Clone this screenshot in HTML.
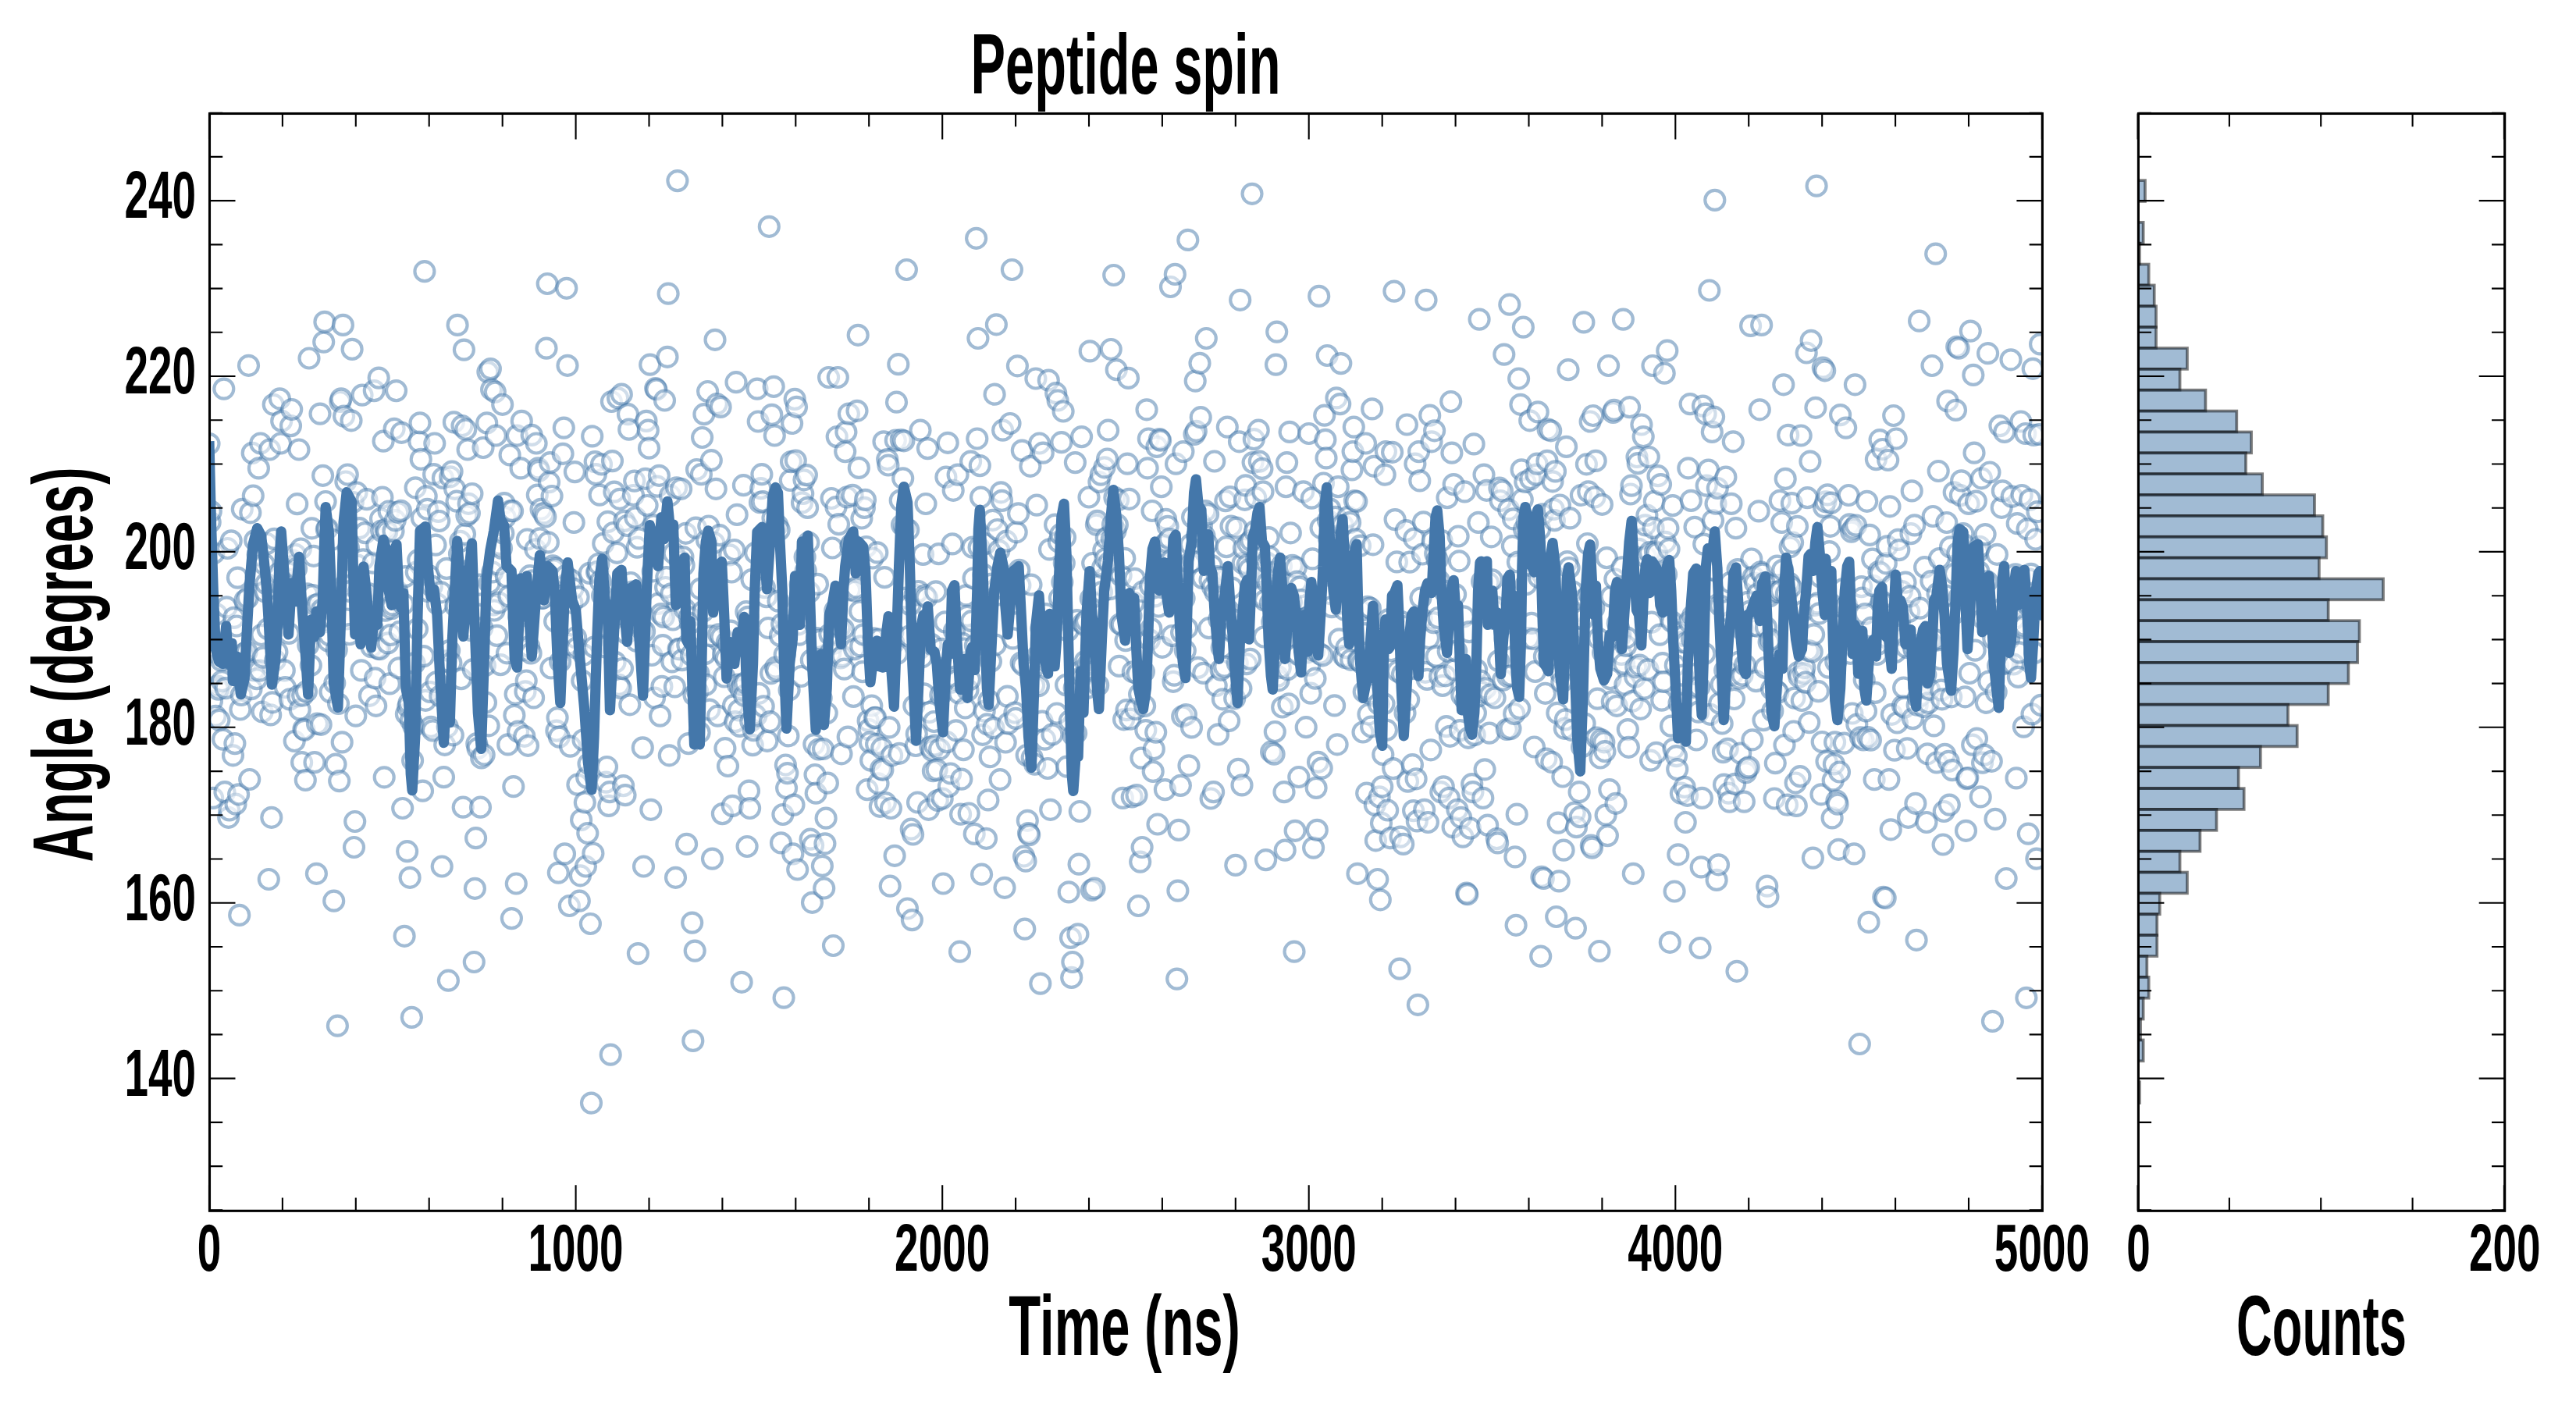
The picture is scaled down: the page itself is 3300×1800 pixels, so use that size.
<!DOCTYPE html>
<html><head><meta charset="utf-8"><title>Peptide spin</title>
<style>html,body{margin:0;padding:0;background:#fff}svg{display:block}text{font-family:"Liberation Sans",sans-serif;font-weight:bold;fill:#000}</style></head><body>
<svg width="3300" height="1800" viewBox="0 0 3300 1800">
<rect width="3300" height="1800" fill="#fff"/>
<defs><clipPath id="c1"><rect x="268.5" y="145.5" width="2347.9" height="1405.8"/></clipPath><clipPath id="c2"><rect x="2739.4" y="145.5" width="469.3" height="1405.8"/></clipPath></defs>
<g clip-path="url(#c1)"><g fill="#fff" fill-opacity="0.5" stroke="#4477aa" stroke-opacity="0.5" stroke-width="4.17">
<circle cx="268.0" cy="568.6" r="12.5"/>
<circle cx="269.2" cy="669.0" r="12.5"/>
<circle cx="270.3" cy="655.0" r="12.5"/>
<circle cx="271.5" cy="898.0" r="12.5"/>
<circle cx="272.7" cy="1022.4" r="12.5"/>
<circle cx="273.9" cy="708.7" r="12.5"/>
<circle cx="275.0" cy="835.9" r="12.5"/>
<circle cx="276.2" cy="917.3" r="12.5"/>
<circle cx="277.4" cy="786.8" r="12.5"/>
<circle cx="278.6" cy="878.8" r="12.5"/>
<circle cx="279.7" cy="883.1" r="12.5"/>
<circle cx="280.9" cy="922.5" r="12.5"/>
<circle cx="282.1" cy="823.8" r="12.5"/>
<circle cx="283.3" cy="846.1" r="12.5"/>
<circle cx="284.4" cy="872.6" r="12.5"/>
<circle cx="285.6" cy="947.1" r="12.5"/>
<circle cx="286.8" cy="498.1" r="12.5"/>
<circle cx="288.0" cy="1014.7" r="12.5"/>
<circle cx="289.1" cy="881.7" r="12.5"/>
<circle cx="290.3" cy="777.8" r="12.5"/>
<circle cx="291.5" cy="702.5" r="12.5"/>
<circle cx="292.7" cy="1047.3" r="12.5"/>
<circle cx="293.8" cy="1038.0" r="12.5"/>
<circle cx="295.0" cy="844.1" r="12.5"/>
<circle cx="296.2" cy="692.9" r="12.5"/>
<circle cx="297.3" cy="844.3" r="12.5"/>
<circle cx="298.5" cy="967.8" r="12.5"/>
<circle cx="299.7" cy="791.4" r="12.5"/>
<circle cx="300.9" cy="952.6" r="12.5"/>
<circle cx="302.0" cy="1030.2" r="12.5"/>
<circle cx="303.2" cy="802.0" r="12.5"/>
<circle cx="304.4" cy="740.1" r="12.5"/>
<circle cx="305.6" cy="1017.8" r="12.5"/>
<circle cx="306.7" cy="1172.4" r="12.5"/>
<circle cx="307.9" cy="909.0" r="12.5"/>
<circle cx="309.1" cy="890.5" r="12.5"/>
<circle cx="310.3" cy="652.3" r="12.5"/>
<circle cx="311.4" cy="842.0" r="12.5"/>
<circle cx="312.6" cy="837.3" r="12.5"/>
<circle cx="313.8" cy="769.1" r="12.5"/>
<circle cx="315.0" cy="852.0" r="12.5"/>
<circle cx="316.1" cy="835.0" r="12.5"/>
<circle cx="317.3" cy="766.2" r="12.5"/>
<circle cx="318.5" cy="468.3" r="12.5"/>
<circle cx="319.7" cy="998.5" r="12.5"/>
<circle cx="320.8" cy="656.8" r="12.5"/>
<circle cx="322.0" cy="882.7" r="12.5"/>
<circle cx="323.2" cy="580.4" r="12.5"/>
<circle cx="324.3" cy="635.0" r="12.5"/>
<circle cx="325.5" cy="859.0" r="12.5"/>
<circle cx="326.7" cy="692.3" r="12.5"/>
<circle cx="327.9" cy="736.8" r="12.5"/>
<circle cx="329.0" cy="869.6" r="12.5"/>
<circle cx="330.2" cy="710.4" r="12.5"/>
<circle cx="331.4" cy="599.9" r="12.5"/>
<circle cx="332.6" cy="859.2" r="12.5"/>
<circle cx="333.7" cy="568.0" r="12.5"/>
<circle cx="334.9" cy="813.5" r="12.5"/>
<circle cx="336.1" cy="912.0" r="12.5"/>
<circle cx="337.3" cy="842.2" r="12.5"/>
<circle cx="338.4" cy="722.6" r="12.5"/>
<circle cx="339.6" cy="757.9" r="12.5"/>
<circle cx="340.8" cy="747.6" r="12.5"/>
<circle cx="342.0" cy="696.5" r="12.5"/>
<circle cx="343.1" cy="805.6" r="12.5"/>
<circle cx="344.3" cy="1126.5" r="12.5"/>
<circle cx="345.5" cy="576.0" r="12.5"/>
<circle cx="346.7" cy="915.9" r="12.5"/>
<circle cx="347.8" cy="1047.3" r="12.5"/>
<circle cx="349.0" cy="899.8" r="12.5"/>
<circle cx="350.2" cy="518.3" r="12.5"/>
<circle cx="351.4" cy="690.4" r="12.5"/>
<circle cx="352.5" cy="846.0" r="12.5"/>
<circle cx="353.7" cy="803.6" r="12.5"/>
<circle cx="354.9" cy="835.2" r="12.5"/>
<circle cx="356.0" cy="775.9" r="12.5"/>
<circle cx="357.2" cy="734.4" r="12.5"/>
<circle cx="358.4" cy="510.8" r="12.5"/>
<circle cx="359.6" cy="568.0" r="12.5"/>
<circle cx="360.7" cy="539.4" r="12.5"/>
<circle cx="361.9" cy="752.6" r="12.5"/>
<circle cx="363.1" cy="777.6" r="12.5"/>
<circle cx="364.3" cy="858.9" r="12.5"/>
<circle cx="365.4" cy="880.5" r="12.5"/>
<circle cx="366.6" cy="753.9" r="12.5"/>
<circle cx="367.8" cy="731.1" r="12.5"/>
<circle cx="369.0" cy="723.2" r="12.5"/>
<circle cx="370.1" cy="811.4" r="12.5"/>
<circle cx="371.3" cy="895.9" r="12.5"/>
<circle cx="372.5" cy="545.6" r="12.5"/>
<circle cx="373.7" cy="524.5" r="12.5"/>
<circle cx="374.8" cy="717.9" r="12.5"/>
<circle cx="376.0" cy="725.3" r="12.5"/>
<circle cx="377.2" cy="949.5" r="12.5"/>
<circle cx="378.4" cy="710.4" r="12.5"/>
<circle cx="379.5" cy="728.7" r="12.5"/>
<circle cx="380.7" cy="645.7" r="12.5"/>
<circle cx="381.9" cy="891.9" r="12.5"/>
<circle cx="383.0" cy="576.0" r="12.5"/>
<circle cx="384.2" cy="909.2" r="12.5"/>
<circle cx="385.4" cy="703.0" r="12.5"/>
<circle cx="386.6" cy="976.7" r="12.5"/>
<circle cx="387.7" cy="891.0" r="12.5"/>
<circle cx="388.9" cy="934.0" r="12.5"/>
<circle cx="390.1" cy="935.3" r="12.5"/>
<circle cx="391.3" cy="999.5" r="12.5"/>
<circle cx="392.4" cy="885.9" r="12.5"/>
<circle cx="393.6" cy="760.8" r="12.5"/>
<circle cx="394.8" cy="826.4" r="12.5"/>
<circle cx="396.0" cy="459.0" r="12.5"/>
<circle cx="397.1" cy="782.4" r="12.5"/>
<circle cx="398.3" cy="852.5" r="12.5"/>
<circle cx="399.5" cy="676.8" r="12.5"/>
<circle cx="400.7" cy="762.6" r="12.5"/>
<circle cx="401.8" cy="712.3" r="12.5"/>
<circle cx="403.0" cy="976.7" r="12.5"/>
<circle cx="404.2" cy="775.3" r="12.5"/>
<circle cx="405.4" cy="1119.3" r="12.5"/>
<circle cx="406.5" cy="927.2" r="12.5"/>
<circle cx="407.7" cy="773.8" r="12.5"/>
<circle cx="408.9" cy="796.6" r="12.5"/>
<circle cx="410.0" cy="530.1" r="12.5"/>
<circle cx="411.2" cy="928.3" r="12.5"/>
<circle cx="412.4" cy="781.0" r="12.5"/>
<circle cx="413.6" cy="609.3" r="12.5"/>
<circle cx="414.7" cy="438.1" r="12.5"/>
<circle cx="415.9" cy="412.4" r="12.5"/>
<circle cx="417.1" cy="642.5" r="12.5"/>
<circle cx="418.3" cy="678.1" r="12.5"/>
<circle cx="419.4" cy="677.0" r="12.5"/>
<circle cx="420.6" cy="821.1" r="12.5"/>
<circle cx="421.8" cy="813.4" r="12.5"/>
<circle cx="423.0" cy="886.6" r="12.5"/>
<circle cx="424.1" cy="764.6" r="12.5"/>
<circle cx="425.3" cy="691.3" r="12.5"/>
<circle cx="426.5" cy="791.5" r="12.5"/>
<circle cx="427.7" cy="1154.2" r="12.5"/>
<circle cx="428.8" cy="875.0" r="12.5"/>
<circle cx="430.0" cy="979.1" r="12.5"/>
<circle cx="431.2" cy="832.5" r="12.5"/>
<circle cx="432.4" cy="1314.2" r="12.5"/>
<circle cx="433.5" cy="901.5" r="12.5"/>
<circle cx="434.7" cy="1000.6" r="12.5"/>
<circle cx="435.9" cy="514.5" r="12.5"/>
<circle cx="437.0" cy="510.8" r="12.5"/>
<circle cx="438.2" cy="950.9" r="12.5"/>
<circle cx="439.4" cy="416.4" r="12.5"/>
<circle cx="440.6" cy="533.2" r="12.5"/>
<circle cx="441.7" cy="750.1" r="12.5"/>
<circle cx="442.9" cy="617.0" r="12.5"/>
<circle cx="444.1" cy="793.0" r="12.5"/>
<circle cx="445.3" cy="608.0" r="12.5"/>
<circle cx="446.4" cy="701.7" r="12.5"/>
<circle cx="447.6" cy="812.7" r="12.5"/>
<circle cx="448.8" cy="757.6" r="12.5"/>
<circle cx="450.0" cy="538.8" r="12.5"/>
<circle cx="451.1" cy="447.4" r="12.5"/>
<circle cx="452.3" cy="643.5" r="12.5"/>
<circle cx="453.5" cy="1085.5" r="12.5"/>
<circle cx="454.7" cy="1052.5" r="12.5"/>
<circle cx="455.8" cy="917.1" r="12.5"/>
<circle cx="457.0" cy="631.0" r="12.5"/>
<circle cx="458.2" cy="724.2" r="12.5"/>
<circle cx="459.4" cy="758.0" r="12.5"/>
<circle cx="460.5" cy="676.7" r="12.5"/>
<circle cx="461.7" cy="766.7" r="12.5"/>
<circle cx="462.9" cy="858.9" r="12.5"/>
<circle cx="464.0" cy="506.1" r="12.5"/>
<circle cx="465.2" cy="716.9" r="12.5"/>
<circle cx="466.4" cy="759.8" r="12.5"/>
<circle cx="467.6" cy="682.6" r="12.5"/>
<circle cx="468.7" cy="785.9" r="12.5"/>
<circle cx="469.9" cy="639.7" r="12.5"/>
<circle cx="471.1" cy="808.2" r="12.5"/>
<circle cx="472.3" cy="760.7" r="12.5"/>
<circle cx="473.4" cy="891.3" r="12.5"/>
<circle cx="474.6" cy="811.8" r="12.5"/>
<circle cx="475.8" cy="828.6" r="12.5"/>
<circle cx="477.0" cy="804.5" r="12.5"/>
<circle cx="478.1" cy="721.2" r="12.5"/>
<circle cx="479.3" cy="500.6" r="12.5"/>
<circle cx="480.5" cy="868.8" r="12.5"/>
<circle cx="481.7" cy="904.3" r="12.5"/>
<circle cx="482.8" cy="698.7" r="12.5"/>
<circle cx="484.0" cy="830.7" r="12.5"/>
<circle cx="485.2" cy="484.1" r="12.5"/>
<circle cx="486.4" cy="831.6" r="12.5"/>
<circle cx="487.5" cy="664.7" r="12.5"/>
<circle cx="488.7" cy="680.1" r="12.5"/>
<circle cx="489.9" cy="637.2" r="12.5"/>
<circle cx="491.1" cy="565.2" r="12.5"/>
<circle cx="492.2" cy="995.8" r="12.5"/>
<circle cx="493.4" cy="782.1" r="12.5"/>
<circle cx="494.6" cy="678.0" r="12.5"/>
<circle cx="495.7" cy="681.6" r="12.5"/>
<circle cx="496.9" cy="823.9" r="12.5"/>
<circle cx="498.1" cy="655.0" r="12.5"/>
<circle cx="499.3" cy="875.9" r="12.5"/>
<circle cx="500.4" cy="813.5" r="12.5"/>
<circle cx="501.6" cy="779.7" r="12.5"/>
<circle cx="502.8" cy="774.9" r="12.5"/>
<circle cx="504.0" cy="680.4" r="12.5"/>
<circle cx="505.1" cy="549.3" r="12.5"/>
<circle cx="506.3" cy="666.6" r="12.5"/>
<circle cx="507.5" cy="500.6" r="12.5"/>
<circle cx="508.7" cy="757.3" r="12.5"/>
<circle cx="509.8" cy="656.3" r="12.5"/>
<circle cx="511.0" cy="855.9" r="12.5"/>
<circle cx="512.2" cy="809.3" r="12.5"/>
<circle cx="513.4" cy="654.4" r="12.5"/>
<circle cx="514.5" cy="554.3" r="12.5"/>
<circle cx="515.7" cy="1035.5" r="12.5"/>
<circle cx="516.9" cy="773.9" r="12.5"/>
<circle cx="518.1" cy="1199.3" r="12.5"/>
<circle cx="519.2" cy="738.6" r="12.5"/>
<circle cx="520.4" cy="914.8" r="12.5"/>
<circle cx="521.6" cy="1090.7" r="12.5"/>
<circle cx="522.7" cy="905.8" r="12.5"/>
<circle cx="523.9" cy="900.9" r="12.5"/>
<circle cx="525.1" cy="1124.3" r="12.5"/>
<circle cx="526.3" cy="922.8" r="12.5"/>
<circle cx="527.4" cy="1303.4" r="12.5"/>
<circle cx="528.6" cy="974.3" r="12.5"/>
<circle cx="529.8" cy="930.5" r="12.5"/>
<circle cx="531.0" cy="849.6" r="12.5"/>
<circle cx="532.1" cy="624.8" r="12.5"/>
<circle cx="533.3" cy="733.1" r="12.5"/>
<circle cx="534.5" cy="805.8" r="12.5"/>
<circle cx="535.7" cy="717.6" r="12.5"/>
<circle cx="536.8" cy="565.8" r="12.5"/>
<circle cx="538.0" cy="541.9" r="12.5"/>
<circle cx="539.2" cy="588.4" r="12.5"/>
<circle cx="540.4" cy="663.7" r="12.5"/>
<circle cx="541.5" cy="1013.1" r="12.5"/>
<circle cx="542.7" cy="840.6" r="12.5"/>
<circle cx="543.9" cy="347.7" r="12.5"/>
<circle cx="545.1" cy="897.3" r="12.5"/>
<circle cx="546.2" cy="635.8" r="12.5"/>
<circle cx="547.4" cy="652.3" r="12.5"/>
<circle cx="548.6" cy="757.7" r="12.5"/>
<circle cx="549.7" cy="737.6" r="12.5"/>
<circle cx="550.9" cy="886.5" r="12.5"/>
<circle cx="552.1" cy="931.4" r="12.5"/>
<circle cx="553.3" cy="751.1" r="12.5"/>
<circle cx="554.4" cy="935.9" r="12.5"/>
<circle cx="555.6" cy="607.7" r="12.5"/>
<circle cx="556.8" cy="568.0" r="12.5"/>
<circle cx="558.0" cy="698.1" r="12.5"/>
<circle cx="559.1" cy="873.8" r="12.5"/>
<circle cx="560.3" cy="773.8" r="12.5"/>
<circle cx="561.5" cy="655.4" r="12.5"/>
<circle cx="562.7" cy="667.5" r="12.5"/>
<circle cx="563.8" cy="891.8" r="12.5"/>
<circle cx="565.0" cy="758.8" r="12.5"/>
<circle cx="566.2" cy="1110.0" r="12.5"/>
<circle cx="567.4" cy="612.4" r="12.5"/>
<circle cx="568.5" cy="995.7" r="12.5"/>
<circle cx="569.7" cy="954.3" r="12.5"/>
<circle cx="570.9" cy="846.9" r="12.5"/>
<circle cx="572.1" cy="728.4" r="12.5"/>
<circle cx="573.2" cy="931.1" r="12.5"/>
<circle cx="574.4" cy="1256.2" r="12.5"/>
<circle cx="575.6" cy="833.6" r="12.5"/>
<circle cx="576.7" cy="610.8" r="12.5"/>
<circle cx="577.9" cy="849.4" r="12.5"/>
<circle cx="579.1" cy="604.0" r="12.5"/>
<circle cx="580.3" cy="941.8" r="12.5"/>
<circle cx="581.4" cy="540.9" r="12.5"/>
<circle cx="582.6" cy="626.3" r="12.5"/>
<circle cx="583.8" cy="776.5" r="12.5"/>
<circle cx="585.0" cy="642.2" r="12.5"/>
<circle cx="586.1" cy="416.4" r="12.5"/>
<circle cx="587.3" cy="761.1" r="12.5"/>
<circle cx="588.5" cy="709.5" r="12.5"/>
<circle cx="589.7" cy="693.4" r="12.5"/>
<circle cx="590.8" cy="869.6" r="12.5"/>
<circle cx="592.0" cy="545.6" r="12.5"/>
<circle cx="593.2" cy="1034.2" r="12.5"/>
<circle cx="594.4" cy="448.1" r="12.5"/>
<circle cx="595.5" cy="684.3" r="12.5"/>
<circle cx="596.7" cy="550.2" r="12.5"/>
<circle cx="597.9" cy="660.6" r="12.5"/>
<circle cx="599.1" cy="576.0" r="12.5"/>
<circle cx="600.2" cy="645.3" r="12.5"/>
<circle cx="601.4" cy="657.5" r="12.5"/>
<circle cx="602.6" cy="803.5" r="12.5"/>
<circle cx="603.7" cy="807.7" r="12.5"/>
<circle cx="604.9" cy="632.5" r="12.5"/>
<circle cx="606.1" cy="857.6" r="12.5"/>
<circle cx="607.3" cy="1232.5" r="12.5"/>
<circle cx="608.4" cy="1138.3" r="12.5"/>
<circle cx="609.6" cy="1073.7" r="12.5"/>
<circle cx="610.8" cy="952.7" r="12.5"/>
<circle cx="612.0" cy="958.7" r="12.5"/>
<circle cx="613.1" cy="787.1" r="12.5"/>
<circle cx="614.3" cy="749.1" r="12.5"/>
<circle cx="615.5" cy="1034.2" r="12.5"/>
<circle cx="616.7" cy="970.9" r="12.5"/>
<circle cx="617.8" cy="804.5" r="12.5"/>
<circle cx="619.0" cy="573.5" r="12.5"/>
<circle cx="620.2" cy="967.0" r="12.5"/>
<circle cx="621.4" cy="852.6" r="12.5"/>
<circle cx="622.5" cy="900.0" r="12.5"/>
<circle cx="623.7" cy="541.9" r="12.5"/>
<circle cx="624.9" cy="476.6" r="12.5"/>
<circle cx="626.1" cy="929.8" r="12.5"/>
<circle cx="627.2" cy="746.9" r="12.5"/>
<circle cx="628.4" cy="472.6" r="12.5"/>
<circle cx="629.6" cy="499.0" r="12.5"/>
<circle cx="630.8" cy="732.9" r="12.5"/>
<circle cx="631.9" cy="774.9" r="12.5"/>
<circle cx="633.1" cy="782.0" r="12.5"/>
<circle cx="634.3" cy="502.1" r="12.5"/>
<circle cx="635.4" cy="558.0" r="12.5"/>
<circle cx="636.6" cy="814.4" r="12.5"/>
<circle cx="637.8" cy="722.9" r="12.5"/>
<circle cx="639.0" cy="772.1" r="12.5"/>
<circle cx="640.1" cy="697.4" r="12.5"/>
<circle cx="641.3" cy="851.6" r="12.5"/>
<circle cx="642.5" cy="702.4" r="12.5"/>
<circle cx="643.7" cy="518.3" r="12.5"/>
<circle cx="644.8" cy="683.2" r="12.5"/>
<circle cx="646.0" cy="644.6" r="12.5"/>
<circle cx="647.2" cy="662.7" r="12.5"/>
<circle cx="648.4" cy="738.9" r="12.5"/>
<circle cx="649.5" cy="836.8" r="12.5"/>
<circle cx="650.7" cy="953.9" r="12.5"/>
<circle cx="651.9" cy="763.9" r="12.5"/>
<circle cx="653.1" cy="582.9" r="12.5"/>
<circle cx="654.2" cy="654.7" r="12.5"/>
<circle cx="655.4" cy="1176.6" r="12.5"/>
<circle cx="656.6" cy="654.7" r="12.5"/>
<circle cx="657.8" cy="1007.7" r="12.5"/>
<circle cx="658.9" cy="916.4" r="12.5"/>
<circle cx="660.1" cy="889.3" r="12.5"/>
<circle cx="661.3" cy="1132.0" r="12.5"/>
<circle cx="662.4" cy="558.0" r="12.5"/>
<circle cx="663.6" cy="937.2" r="12.5"/>
<circle cx="664.8" cy="790.4" r="12.5"/>
<circle cx="666.0" cy="783.7" r="12.5"/>
<circle cx="667.1" cy="599.9" r="12.5"/>
<circle cx="668.3" cy="539.4" r="12.5"/>
<circle cx="669.5" cy="833.0" r="12.5"/>
<circle cx="670.7" cy="781.5" r="12.5"/>
<circle cx="671.8" cy="943.3" r="12.5"/>
<circle cx="673.0" cy="885.9" r="12.5"/>
<circle cx="674.2" cy="872.0" r="12.5"/>
<circle cx="675.4" cy="691.0" r="12.5"/>
<circle cx="676.5" cy="955.3" r="12.5"/>
<circle cx="677.7" cy="828.3" r="12.5"/>
<circle cx="678.9" cy="737.7" r="12.5"/>
<circle cx="680.1" cy="836.9" r="12.5"/>
<circle cx="681.2" cy="557.4" r="12.5"/>
<circle cx="682.4" cy="743.9" r="12.5"/>
<circle cx="683.6" cy="893.9" r="12.5"/>
<circle cx="684.8" cy="760.5" r="12.5"/>
<circle cx="685.9" cy="703.8" r="12.5"/>
<circle cx="687.1" cy="568.0" r="12.5"/>
<circle cx="688.3" cy="634.1" r="12.5"/>
<circle cx="689.4" cy="599.9" r="12.5"/>
<circle cx="690.6" cy="603.3" r="12.5"/>
<circle cx="691.8" cy="689.9" r="12.5"/>
<circle cx="693.0" cy="652.3" r="12.5"/>
<circle cx="694.1" cy="766.5" r="12.5"/>
<circle cx="695.3" cy="766.3" r="12.5"/>
<circle cx="696.5" cy="657.8" r="12.5"/>
<circle cx="697.7" cy="729.0" r="12.5"/>
<circle cx="698.8" cy="662.0" r="12.5"/>
<circle cx="700.0" cy="446.2" r="12.5"/>
<circle cx="701.2" cy="363.5" r="12.5"/>
<circle cx="702.4" cy="694.9" r="12.5"/>
<circle cx="703.5" cy="617.7" r="12.5"/>
<circle cx="704.7" cy="592.7" r="12.5"/>
<circle cx="705.9" cy="856.0" r="12.5"/>
<circle cx="707.1" cy="635.5" r="12.5"/>
<circle cx="708.2" cy="724.9" r="12.5"/>
<circle cx="709.4" cy="729.8" r="12.5"/>
<circle cx="710.6" cy="796.0" r="12.5"/>
<circle cx="711.8" cy="727.8" r="12.5"/>
<circle cx="712.9" cy="936.2" r="12.5"/>
<circle cx="714.1" cy="919.6" r="12.5"/>
<circle cx="715.3" cy="1118.1" r="12.5"/>
<circle cx="716.4" cy="944.1" r="12.5"/>
<circle cx="717.6" cy="847.8" r="12.5"/>
<circle cx="718.8" cy="763.5" r="12.5"/>
<circle cx="720.0" cy="763.0" r="12.5"/>
<circle cx="721.1" cy="581.3" r="12.5"/>
<circle cx="722.3" cy="548.1" r="12.5"/>
<circle cx="723.5" cy="1093.9" r="12.5"/>
<circle cx="724.7" cy="737.7" r="12.5"/>
<circle cx="725.8" cy="369.3" r="12.5"/>
<circle cx="727.0" cy="468.3" r="12.5"/>
<circle cx="728.2" cy="825.4" r="12.5"/>
<circle cx="729.4" cy="1160.5" r="12.5"/>
<circle cx="730.5" cy="956.1" r="12.5"/>
<circle cx="731.7" cy="743.0" r="12.5"/>
<circle cx="732.9" cy="772.3" r="12.5"/>
<circle cx="734.1" cy="754.1" r="12.5"/>
<circle cx="735.2" cy="669.4" r="12.5"/>
<circle cx="736.4" cy="604.6" r="12.5"/>
<circle cx="737.6" cy="816.8" r="12.5"/>
<circle cx="738.8" cy="830.2" r="12.5"/>
<circle cx="739.9" cy="1005.2" r="12.5"/>
<circle cx="741.1" cy="764.9" r="12.5"/>
<circle cx="742.3" cy="1154.2" r="12.5"/>
<circle cx="743.4" cy="1121.8" r="12.5"/>
<circle cx="744.6" cy="1050.4" r="12.5"/>
<circle cx="745.8" cy="872.1" r="12.5"/>
<circle cx="747.0" cy="948.0" r="12.5"/>
<circle cx="748.1" cy="838.9" r="12.5"/>
<circle cx="749.3" cy="1028.0" r="12.5"/>
<circle cx="750.5" cy="1110.0" r="12.5"/>
<circle cx="751.7" cy="996.1" r="12.5"/>
<circle cx="752.8" cy="1067.5" r="12.5"/>
<circle cx="754.0" cy="978.5" r="12.5"/>
<circle cx="755.2" cy="734.4" r="12.5"/>
<circle cx="756.4" cy="1183.5" r="12.5"/>
<circle cx="757.5" cy="1413.1" r="12.5"/>
<circle cx="758.7" cy="558.9" r="12.5"/>
<circle cx="759.9" cy="1093.2" r="12.5"/>
<circle cx="761.1" cy="829.0" r="12.5"/>
<circle cx="762.2" cy="591.6" r="12.5"/>
<circle cx="763.4" cy="607.7" r="12.5"/>
<circle cx="764.6" cy="733.1" r="12.5"/>
<circle cx="765.8" cy="732.1" r="12.5"/>
<circle cx="766.9" cy="722.3" r="12.5"/>
<circle cx="768.1" cy="634.1" r="12.5"/>
<circle cx="769.3" cy="744.7" r="12.5"/>
<circle cx="770.5" cy="594.9" r="12.5"/>
<circle cx="771.6" cy="763.0" r="12.5"/>
<circle cx="772.8" cy="696.4" r="12.5"/>
<circle cx="774.0" cy="802.5" r="12.5"/>
<circle cx="775.1" cy="828.9" r="12.5"/>
<circle cx="776.3" cy="1002.2" r="12.5"/>
<circle cx="777.5" cy="982.5" r="12.5"/>
<circle cx="778.7" cy="668.4" r="12.5"/>
<circle cx="779.8" cy="1032.4" r="12.5"/>
<circle cx="781.0" cy="1014.7" r="12.5"/>
<circle cx="782.2" cy="1351.2" r="12.5"/>
<circle cx="783.4" cy="514.5" r="12.5"/>
<circle cx="784.5" cy="590.6" r="12.5"/>
<circle cx="785.7" cy="682.5" r="12.5"/>
<circle cx="786.9" cy="630.1" r="12.5"/>
<circle cx="788.1" cy="848.4" r="12.5"/>
<circle cx="789.2" cy="787.3" r="12.5"/>
<circle cx="790.4" cy="708.3" r="12.5"/>
<circle cx="791.6" cy="509.9" r="12.5"/>
<circle cx="792.8" cy="877.4" r="12.5"/>
<circle cx="793.9" cy="639.3" r="12.5"/>
<circle cx="795.1" cy="881.5" r="12.5"/>
<circle cx="796.3" cy="505.2" r="12.5"/>
<circle cx="797.5" cy="856.5" r="12.5"/>
<circle cx="798.6" cy="1006.6" r="12.5"/>
<circle cx="799.8" cy="667.4" r="12.5"/>
<circle cx="801.0" cy="1018.7" r="12.5"/>
<circle cx="802.1" cy="811.2" r="12.5"/>
<circle cx="803.3" cy="673.5" r="12.5"/>
<circle cx="804.5" cy="530.7" r="12.5"/>
<circle cx="805.7" cy="550.2" r="12.5"/>
<circle cx="806.8" cy="902.8" r="12.5"/>
<circle cx="808.0" cy="746.5" r="12.5"/>
<circle cx="809.2" cy="768.9" r="12.5"/>
<circle cx="810.4" cy="758.1" r="12.5"/>
<circle cx="811.5" cy="634.5" r="12.5"/>
<circle cx="812.7" cy="616.1" r="12.5"/>
<circle cx="813.9" cy="663.0" r="12.5"/>
<circle cx="815.1" cy="821.1" r="12.5"/>
<circle cx="816.2" cy="701.1" r="12.5"/>
<circle cx="817.4" cy="1221.6" r="12.5"/>
<circle cx="818.6" cy="689.9" r="12.5"/>
<circle cx="819.8" cy="772.1" r="12.5"/>
<circle cx="820.9" cy="782.2" r="12.5"/>
<circle cx="822.1" cy="806.1" r="12.5"/>
<circle cx="823.3" cy="957.9" r="12.5"/>
<circle cx="824.5" cy="1110.0" r="12.5"/>
<circle cx="825.6" cy="808.9" r="12.5"/>
<circle cx="826.8" cy="613.3" r="12.5"/>
<circle cx="828.0" cy="539.4" r="12.5"/>
<circle cx="829.1" cy="647.5" r="12.5"/>
<circle cx="830.3" cy="551.2" r="12.5"/>
<circle cx="831.5" cy="574.2" r="12.5"/>
<circle cx="832.7" cy="467.2" r="12.5"/>
<circle cx="833.8" cy="1037.3" r="12.5"/>
<circle cx="835.0" cy="839.5" r="12.5"/>
<circle cx="836.2" cy="731.8" r="12.5"/>
<circle cx="837.4" cy="672.9" r="12.5"/>
<circle cx="838.5" cy="894.0" r="12.5"/>
<circle cx="839.7" cy="497.5" r="12.5"/>
<circle cx="840.9" cy="499.0" r="12.5"/>
<circle cx="842.1" cy="623.2" r="12.5"/>
<circle cx="843.2" cy="773.4" r="12.5"/>
<circle cx="844.4" cy="609.3" r="12.5"/>
<circle cx="845.6" cy="917.1" r="12.5"/>
<circle cx="846.8" cy="786.6" r="12.5"/>
<circle cx="847.9" cy="879.4" r="12.5"/>
<circle cx="849.1" cy="826.6" r="12.5"/>
<circle cx="850.3" cy="790.4" r="12.5"/>
<circle cx="851.5" cy="513.0" r="12.5"/>
<circle cx="852.6" cy="752.5" r="12.5"/>
<circle cx="853.8" cy="739.6" r="12.5"/>
<circle cx="855.0" cy="457.3" r="12.5"/>
<circle cx="856.1" cy="376.2" r="12.5"/>
<circle cx="857.3" cy="967.8" r="12.5"/>
<circle cx="858.5" cy="634.7" r="12.5"/>
<circle cx="859.7" cy="760.8" r="12.5"/>
<circle cx="860.8" cy="847.9" r="12.5"/>
<circle cx="862.0" cy="794.0" r="12.5"/>
<circle cx="863.2" cy="708.9" r="12.5"/>
<circle cx="864.4" cy="879.9" r="12.5"/>
<circle cx="865.5" cy="1124.3" r="12.5"/>
<circle cx="866.7" cy="624.8" r="12.5"/>
<circle cx="867.9" cy="231.6" r="12.5"/>
<circle cx="869.1" cy="831.3" r="12.5"/>
<circle cx="870.2" cy="831.8" r="12.5"/>
<circle cx="871.4" cy="719.0" r="12.5"/>
<circle cx="872.6" cy="626.3" r="12.5"/>
<circle cx="873.8" cy="845.7" r="12.5"/>
<circle cx="874.9" cy="713.6" r="12.5"/>
<circle cx="876.1" cy="724.1" r="12.5"/>
<circle cx="877.3" cy="780.4" r="12.5"/>
<circle cx="878.5" cy="683.3" r="12.5"/>
<circle cx="879.6" cy="1081.4" r="12.5"/>
<circle cx="880.8" cy="826.1" r="12.5"/>
<circle cx="882.0" cy="952.6" r="12.5"/>
<circle cx="883.1" cy="790.8" r="12.5"/>
<circle cx="884.3" cy="798.7" r="12.5"/>
<circle cx="885.5" cy="839.3" r="12.5"/>
<circle cx="886.7" cy="1182.1" r="12.5"/>
<circle cx="887.8" cy="1333.4" r="12.5"/>
<circle cx="889.0" cy="890.5" r="12.5"/>
<circle cx="890.2" cy="1218.1" r="12.5"/>
<circle cx="891.4" cy="676.1" r="12.5"/>
<circle cx="892.5" cy="601.5" r="12.5"/>
<circle cx="893.7" cy="885.9" r="12.5"/>
<circle cx="894.9" cy="862.7" r="12.5"/>
<circle cx="896.1" cy="938.4" r="12.5"/>
<circle cx="897.2" cy="754.4" r="12.5"/>
<circle cx="898.4" cy="607.7" r="12.5"/>
<circle cx="899.6" cy="560.5" r="12.5"/>
<circle cx="900.8" cy="783.3" r="12.5"/>
<circle cx="901.9" cy="530.7" r="12.5"/>
<circle cx="903.1" cy="837.6" r="12.5"/>
<circle cx="904.3" cy="877.2" r="12.5"/>
<circle cx="905.5" cy="692.0" r="12.5"/>
<circle cx="906.6" cy="501.5" r="12.5"/>
<circle cx="907.8" cy="674.0" r="12.5"/>
<circle cx="909.0" cy="909.1" r="12.5"/>
<circle cx="910.2" cy="814.8" r="12.5"/>
<circle cx="911.3" cy="589.7" r="12.5"/>
<circle cx="912.5" cy="1100.1" r="12.5"/>
<circle cx="913.7" cy="738.6" r="12.5"/>
<circle cx="914.8" cy="695.5" r="12.5"/>
<circle cx="916.0" cy="435.3" r="12.5"/>
<circle cx="917.2" cy="626.3" r="12.5"/>
<circle cx="918.4" cy="517.6" r="12.5"/>
<circle cx="919.5" cy="917.2" r="12.5"/>
<circle cx="920.7" cy="812.8" r="12.5"/>
<circle cx="921.9" cy="685.7" r="12.5"/>
<circle cx="923.1" cy="521.4" r="12.5"/>
<circle cx="924.2" cy="816.1" r="12.5"/>
<circle cx="925.4" cy="1042.6" r="12.5"/>
<circle cx="926.6" cy="837.9" r="12.5"/>
<circle cx="927.8" cy="867.0" r="12.5"/>
<circle cx="928.9" cy="958.7" r="12.5"/>
<circle cx="930.1" cy="843.4" r="12.5"/>
<circle cx="931.3" cy="822.8" r="12.5"/>
<circle cx="932.5" cy="981.5" r="12.5"/>
<circle cx="933.6" cy="825.6" r="12.5"/>
<circle cx="934.8" cy="710.9" r="12.5"/>
<circle cx="936.0" cy="808.1" r="12.5"/>
<circle cx="937.2" cy="733.0" r="12.5"/>
<circle cx="938.3" cy="1032.4" r="12.5"/>
<circle cx="939.5" cy="903.8" r="12.5"/>
<circle cx="940.7" cy="704.5" r="12.5"/>
<circle cx="941.8" cy="924.6" r="12.5"/>
<circle cx="943.0" cy="489.7" r="12.5"/>
<circle cx="944.2" cy="659.4" r="12.5"/>
<circle cx="945.4" cy="877.0" r="12.5"/>
<circle cx="946.5" cy="910.0" r="12.5"/>
<circle cx="947.7" cy="930.4" r="12.5"/>
<circle cx="948.9" cy="882.8" r="12.5"/>
<circle cx="950.1" cy="1258.3" r="12.5"/>
<circle cx="951.2" cy="877.4" r="12.5"/>
<circle cx="952.4" cy="621.7" r="12.5"/>
<circle cx="953.6" cy="891.3" r="12.5"/>
<circle cx="954.8" cy="874.7" r="12.5"/>
<circle cx="955.9" cy="783.7" r="12.5"/>
<circle cx="957.1" cy="1084.5" r="12.5"/>
<circle cx="958.3" cy="790.3" r="12.5"/>
<circle cx="959.5" cy="1013.1" r="12.5"/>
<circle cx="960.6" cy="1035.5" r="12.5"/>
<circle cx="961.8" cy="924.0" r="12.5"/>
<circle cx="963.0" cy="742.6" r="12.5"/>
<circle cx="964.2" cy="954.6" r="12.5"/>
<circle cx="965.3" cy="935.6" r="12.5"/>
<circle cx="966.5" cy="915.1" r="12.5"/>
<circle cx="967.7" cy="708.4" r="12.5"/>
<circle cx="968.8" cy="917.2" r="12.5"/>
<circle cx="970.0" cy="498.1" r="12.5"/>
<circle cx="971.2" cy="540.0" r="12.5"/>
<circle cx="972.4" cy="888.3" r="12.5"/>
<circle cx="973.5" cy="643.7" r="12.5"/>
<circle cx="974.7" cy="625.7" r="12.5"/>
<circle cx="975.9" cy="607.7" r="12.5"/>
<circle cx="977.1" cy="642.7" r="12.5"/>
<circle cx="978.2" cy="904.9" r="12.5"/>
<circle cx="979.4" cy="752.6" r="12.5"/>
<circle cx="980.6" cy="689.5" r="12.5"/>
<circle cx="981.8" cy="764.7" r="12.5"/>
<circle cx="982.9" cy="949.3" r="12.5"/>
<circle cx="984.1" cy="804.5" r="12.5"/>
<circle cx="985.3" cy="290.3" r="12.5"/>
<circle cx="986.5" cy="924.6" r="12.5"/>
<circle cx="987.6" cy="862.6" r="12.5"/>
<circle cx="988.8" cy="531.4" r="12.5"/>
<circle cx="990.0" cy="663.8" r="12.5"/>
<circle cx="991.2" cy="495.3" r="12.5"/>
<circle cx="992.3" cy="558.0" r="12.5"/>
<circle cx="993.5" cy="855.2" r="12.5"/>
<circle cx="994.7" cy="859.4" r="12.5"/>
<circle cx="995.8" cy="672.9" r="12.5"/>
<circle cx="997.0" cy="770.1" r="12.5"/>
<circle cx="998.2" cy="678.9" r="12.5"/>
<circle cx="999.4" cy="814.4" r="12.5"/>
<circle cx="1000.5" cy="1079.9" r="12.5"/>
<circle cx="1001.7" cy="799.6" r="12.5"/>
<circle cx="1002.9" cy="1043.5" r="12.5"/>
<circle cx="1004.1" cy="1278.2" r="12.5"/>
<circle cx="1005.2" cy="838.7" r="12.5"/>
<circle cx="1006.4" cy="980.0" r="12.5"/>
<circle cx="1007.6" cy="1009.7" r="12.5"/>
<circle cx="1008.8" cy="990.6" r="12.5"/>
<circle cx="1009.9" cy="942.9" r="12.5"/>
<circle cx="1011.1" cy="884.0" r="12.5"/>
<circle cx="1012.3" cy="615.5" r="12.5"/>
<circle cx="1013.5" cy="591.6" r="12.5"/>
<circle cx="1014.6" cy="542.5" r="12.5"/>
<circle cx="1015.8" cy="1093.9" r="12.5"/>
<circle cx="1017.0" cy="1031.1" r="12.5"/>
<circle cx="1018.2" cy="511.4" r="12.5"/>
<circle cx="1019.3" cy="590.0" r="12.5"/>
<circle cx="1020.5" cy="521.4" r="12.5"/>
<circle cx="1021.7" cy="1114.0" r="12.5"/>
<circle cx="1022.8" cy="799.9" r="12.5"/>
<circle cx="1024.0" cy="813.1" r="12.5"/>
<circle cx="1025.2" cy="749.0" r="12.5"/>
<circle cx="1026.4" cy="866.5" r="12.5"/>
<circle cx="1027.5" cy="643.9" r="12.5"/>
<circle cx="1028.7" cy="632.5" r="12.5"/>
<circle cx="1029.9" cy="614.8" r="12.5"/>
<circle cx="1031.1" cy="713.6" r="12.5"/>
<circle cx="1032.2" cy="731.1" r="12.5"/>
<circle cx="1033.4" cy="608.6" r="12.5"/>
<circle cx="1034.6" cy="650.4" r="12.5"/>
<circle cx="1035.8" cy="695.0" r="12.5"/>
<circle cx="1036.9" cy="758.7" r="12.5"/>
<circle cx="1038.1" cy="1075.2" r="12.5"/>
<circle cx="1039.3" cy="845.7" r="12.5"/>
<circle cx="1040.5" cy="1156.3" r="12.5"/>
<circle cx="1041.6" cy="1083.0" r="12.5"/>
<circle cx="1042.8" cy="953.6" r="12.5"/>
<circle cx="1044.0" cy="992.5" r="12.5"/>
<circle cx="1045.2" cy="1016.2" r="12.5"/>
<circle cx="1046.3" cy="817.6" r="12.5"/>
<circle cx="1047.5" cy="748.4" r="12.5"/>
<circle cx="1048.7" cy="960.0" r="12.5"/>
<circle cx="1049.9" cy="857.3" r="12.5"/>
<circle cx="1051.0" cy="820.1" r="12.5"/>
<circle cx="1052.2" cy="894.5" r="12.5"/>
<circle cx="1053.4" cy="1109.4" r="12.5"/>
<circle cx="1054.5" cy="959.5" r="12.5"/>
<circle cx="1055.7" cy="1138.0" r="12.5"/>
<circle cx="1056.9" cy="1080.8" r="12.5"/>
<circle cx="1058.1" cy="1048.2" r="12.5"/>
<circle cx="1059.2" cy="913.6" r="12.5"/>
<circle cx="1060.4" cy="1003.2" r="12.5"/>
<circle cx="1061.6" cy="483.5" r="12.5"/>
<circle cx="1062.8" cy="812.5" r="12.5"/>
<circle cx="1063.9" cy="836.7" r="12.5"/>
<circle cx="1065.1" cy="638.5" r="12.5"/>
<circle cx="1066.3" cy="702.0" r="12.5"/>
<circle cx="1067.5" cy="1211.5" r="12.5"/>
<circle cx="1068.6" cy="824.1" r="12.5"/>
<circle cx="1069.8" cy="782.0" r="12.5"/>
<circle cx="1071.0" cy="649.7" r="12.5"/>
<circle cx="1072.2" cy="559.6" r="12.5"/>
<circle cx="1073.3" cy="483.5" r="12.5"/>
<circle cx="1074.5" cy="671.7" r="12.5"/>
<circle cx="1075.7" cy="803.9" r="12.5"/>
<circle cx="1076.9" cy="843.0" r="12.5"/>
<circle cx="1078.0" cy="965.8" r="12.5"/>
<circle cx="1079.2" cy="840.6" r="12.5"/>
<circle cx="1080.4" cy="805.7" r="12.5"/>
<circle cx="1081.5" cy="857.2" r="12.5"/>
<circle cx="1082.7" cy="578.6" r="12.5"/>
<circle cx="1083.9" cy="553.4" r="12.5"/>
<circle cx="1085.1" cy="636.9" r="12.5"/>
<circle cx="1086.2" cy="944.1" r="12.5"/>
<circle cx="1087.4" cy="530.1" r="12.5"/>
<circle cx="1088.6" cy="755.8" r="12.5"/>
<circle cx="1089.8" cy="700.2" r="12.5"/>
<circle cx="1090.9" cy="697.1" r="12.5"/>
<circle cx="1092.1" cy="634.4" r="12.5"/>
<circle cx="1093.3" cy="892.4" r="12.5"/>
<circle cx="1094.5" cy="831.6" r="12.5"/>
<circle cx="1095.6" cy="757.1" r="12.5"/>
<circle cx="1096.8" cy="752.8" r="12.5"/>
<circle cx="1098.0" cy="526.3" r="12.5"/>
<circle cx="1099.2" cy="429.3" r="12.5"/>
<circle cx="1100.3" cy="599.4" r="12.5"/>
<circle cx="1101.5" cy="783.1" r="12.5"/>
<circle cx="1102.7" cy="827.9" r="12.5"/>
<circle cx="1103.9" cy="664.0" r="12.5"/>
<circle cx="1105.0" cy="860.7" r="12.5"/>
<circle cx="1106.2" cy="812.9" r="12.5"/>
<circle cx="1107.4" cy="650.4" r="12.5"/>
<circle cx="1108.5" cy="640.4" r="12.5"/>
<circle cx="1109.7" cy="700.5" r="12.5"/>
<circle cx="1110.9" cy="1011.6" r="12.5"/>
<circle cx="1112.1" cy="923.4" r="12.5"/>
<circle cx="1113.2" cy="934.6" r="12.5"/>
<circle cx="1114.4" cy="951.2" r="12.5"/>
<circle cx="1115.6" cy="974.2" r="12.5"/>
<circle cx="1116.8" cy="904.0" r="12.5"/>
<circle cx="1117.9" cy="715.0" r="12.5"/>
<circle cx="1119.1" cy="817.9" r="12.5"/>
<circle cx="1120.3" cy="919.7" r="12.5"/>
<circle cx="1121.5" cy="919.3" r="12.5"/>
<circle cx="1122.6" cy="953.5" r="12.5"/>
<circle cx="1123.8" cy="707.9" r="12.5"/>
<circle cx="1125.0" cy="1003.8" r="12.5"/>
<circle cx="1126.2" cy="819.0" r="12.5"/>
<circle cx="1127.3" cy="1033.3" r="12.5"/>
<circle cx="1128.5" cy="985.1" r="12.5"/>
<circle cx="1129.7" cy="958.6" r="12.5"/>
<circle cx="1130.9" cy="986.3" r="12.5"/>
<circle cx="1132.0" cy="565.8" r="12.5"/>
<circle cx="1133.2" cy="739.6" r="12.5"/>
<circle cx="1134.4" cy="1028.6" r="12.5"/>
<circle cx="1135.5" cy="832.0" r="12.5"/>
<circle cx="1136.7" cy="588.6" r="12.5"/>
<circle cx="1137.9" cy="596.0" r="12.5"/>
<circle cx="1139.1" cy="931.9" r="12.5"/>
<circle cx="1140.2" cy="1135.2" r="12.5"/>
<circle cx="1141.4" cy="1035.5" r="12.5"/>
<circle cx="1142.6" cy="967.8" r="12.5"/>
<circle cx="1143.8" cy="810.0" r="12.5"/>
<circle cx="1144.9" cy="823.8" r="12.5"/>
<circle cx="1146.1" cy="1096.3" r="12.5"/>
<circle cx="1147.3" cy="564.2" r="12.5"/>
<circle cx="1148.5" cy="515.2" r="12.5"/>
<circle cx="1149.6" cy="837.3" r="12.5"/>
<circle cx="1150.8" cy="466.7" r="12.5"/>
<circle cx="1152.0" cy="965.3" r="12.5"/>
<circle cx="1153.2" cy="641.1" r="12.5"/>
<circle cx="1154.3" cy="563.6" r="12.5"/>
<circle cx="1155.5" cy="672.6" r="12.5"/>
<circle cx="1156.7" cy="612.8" r="12.5"/>
<circle cx="1157.9" cy="564.8" r="12.5"/>
<circle cx="1159.0" cy="675.4" r="12.5"/>
<circle cx="1160.2" cy="766.1" r="12.5"/>
<circle cx="1161.4" cy="345.5" r="12.5"/>
<circle cx="1162.5" cy="1164.0" r="12.5"/>
<circle cx="1163.7" cy="678.7" r="12.5"/>
<circle cx="1164.9" cy="815.1" r="12.5"/>
<circle cx="1166.1" cy="774.9" r="12.5"/>
<circle cx="1167.2" cy="1062.2" r="12.5"/>
<circle cx="1168.4" cy="1178.6" r="12.5"/>
<circle cx="1169.6" cy="1069.0" r="12.5"/>
<circle cx="1170.8" cy="904.3" r="12.5"/>
<circle cx="1171.9" cy="762.3" r="12.5"/>
<circle cx="1173.1" cy="955.5" r="12.5"/>
<circle cx="1174.3" cy="940.2" r="12.5"/>
<circle cx="1175.5" cy="1028.0" r="12.5"/>
<circle cx="1176.6" cy="757.5" r="12.5"/>
<circle cx="1177.8" cy="831.2" r="12.5"/>
<circle cx="1179.0" cy="551.2" r="12.5"/>
<circle cx="1180.2" cy="820.7" r="12.5"/>
<circle cx="1181.3" cy="841.8" r="12.5"/>
<circle cx="1182.5" cy="710.4" r="12.5"/>
<circle cx="1183.7" cy="888.9" r="12.5"/>
<circle cx="1184.9" cy="762.8" r="12.5"/>
<circle cx="1186.0" cy="645.5" r="12.5"/>
<circle cx="1187.2" cy="765.5" r="12.5"/>
<circle cx="1188.4" cy="574.6" r="12.5"/>
<circle cx="1189.6" cy="1037.3" r="12.5"/>
<circle cx="1190.7" cy="912.5" r="12.5"/>
<circle cx="1191.9" cy="957.1" r="12.5"/>
<circle cx="1193.1" cy="825.3" r="12.5"/>
<circle cx="1194.2" cy="961.5" r="12.5"/>
<circle cx="1195.4" cy="987.7" r="12.5"/>
<circle cx="1196.6" cy="924.5" r="12.5"/>
<circle cx="1197.8" cy="955.2" r="12.5"/>
<circle cx="1198.9" cy="757.9" r="12.5"/>
<circle cx="1200.1" cy="986.1" r="12.5"/>
<circle cx="1201.3" cy="1025.5" r="12.5"/>
<circle cx="1202.5" cy="709.7" r="12.5"/>
<circle cx="1203.6" cy="959.9" r="12.5"/>
<circle cx="1204.8" cy="890.2" r="12.5"/>
<circle cx="1206.0" cy="831.3" r="12.5"/>
<circle cx="1207.2" cy="1023.0" r="12.5"/>
<circle cx="1208.3" cy="1132.0" r="12.5"/>
<circle cx="1209.5" cy="872.1" r="12.5"/>
<circle cx="1210.7" cy="796.9" r="12.5"/>
<circle cx="1211.9" cy="611.2" r="12.5"/>
<circle cx="1213.0" cy="950.7" r="12.5"/>
<circle cx="1214.2" cy="567.3" r="12.5"/>
<circle cx="1215.4" cy="1007.5" r="12.5"/>
<circle cx="1216.6" cy="869.5" r="12.5"/>
<circle cx="1217.7" cy="991.0" r="12.5"/>
<circle cx="1218.9" cy="874.2" r="12.5"/>
<circle cx="1220.1" cy="696.9" r="12.5"/>
<circle cx="1221.2" cy="628.3" r="12.5"/>
<circle cx="1222.4" cy="808.3" r="12.5"/>
<circle cx="1223.6" cy="867.0" r="12.5"/>
<circle cx="1224.8" cy="935.8" r="12.5"/>
<circle cx="1225.9" cy="871.3" r="12.5"/>
<circle cx="1227.1" cy="608.1" r="12.5"/>
<circle cx="1228.3" cy="888.0" r="12.5"/>
<circle cx="1229.5" cy="1219.2" r="12.5"/>
<circle cx="1230.6" cy="1043.2" r="12.5"/>
<circle cx="1231.8" cy="998.1" r="12.5"/>
<circle cx="1233.0" cy="824.4" r="12.5"/>
<circle cx="1234.2" cy="960.6" r="12.5"/>
<circle cx="1235.3" cy="831.0" r="12.5"/>
<circle cx="1236.5" cy="907.0" r="12.5"/>
<circle cx="1237.7" cy="762.9" r="12.5"/>
<circle cx="1238.9" cy="789.4" r="12.5"/>
<circle cx="1240.0" cy="884.1" r="12.5"/>
<circle cx="1241.2" cy="1042.0" r="12.5"/>
<circle cx="1242.4" cy="870.6" r="12.5"/>
<circle cx="1243.6" cy="591.1" r="12.5"/>
<circle cx="1244.7" cy="795.7" r="12.5"/>
<circle cx="1245.9" cy="701.1" r="12.5"/>
<circle cx="1247.1" cy="740.8" r="12.5"/>
<circle cx="1248.2" cy="1068.4" r="12.5"/>
<circle cx="1249.4" cy="826.9" r="12.5"/>
<circle cx="1250.6" cy="305.3" r="12.5"/>
<circle cx="1251.8" cy="562.0" r="12.5"/>
<circle cx="1252.9" cy="433.5" r="12.5"/>
<circle cx="1254.1" cy="701.3" r="12.5"/>
<circle cx="1255.3" cy="596.6" r="12.5"/>
<circle cx="1256.5" cy="637.1" r="12.5"/>
<circle cx="1257.6" cy="1120.2" r="12.5"/>
<circle cx="1258.8" cy="941.3" r="12.5"/>
<circle cx="1260.0" cy="736.1" r="12.5"/>
<circle cx="1261.2" cy="911.1" r="12.5"/>
<circle cx="1262.3" cy="696.6" r="12.5"/>
<circle cx="1263.5" cy="1074.3" r="12.5"/>
<circle cx="1264.7" cy="927.8" r="12.5"/>
<circle cx="1265.9" cy="1024.9" r="12.5"/>
<circle cx="1267.0" cy="897.5" r="12.5"/>
<circle cx="1268.2" cy="969.7" r="12.5"/>
<circle cx="1269.4" cy="847.5" r="12.5"/>
<circle cx="1270.6" cy="748.2" r="12.5"/>
<circle cx="1271.7" cy="666.3" r="12.5"/>
<circle cx="1272.9" cy="932.6" r="12.5"/>
<circle cx="1274.1" cy="505.2" r="12.5"/>
<circle cx="1275.2" cy="826.0" r="12.5"/>
<circle cx="1276.4" cy="415.8" r="12.5"/>
<circle cx="1277.6" cy="678.5" r="12.5"/>
<circle cx="1278.8" cy="762.0" r="12.5"/>
<circle cx="1279.9" cy="705.3" r="12.5"/>
<circle cx="1281.1" cy="998.7" r="12.5"/>
<circle cx="1282.3" cy="630.8" r="12.5"/>
<circle cx="1283.5" cy="641.4" r="12.5"/>
<circle cx="1284.6" cy="551.2" r="12.5"/>
<circle cx="1285.8" cy="754.5" r="12.5"/>
<circle cx="1287.0" cy="1137.3" r="12.5"/>
<circle cx="1288.2" cy="951.0" r="12.5"/>
<circle cx="1289.3" cy="693.2" r="12.5"/>
<circle cx="1290.5" cy="892.1" r="12.5"/>
<circle cx="1291.7" cy="926.9" r="12.5"/>
<circle cx="1292.9" cy="752.2" r="12.5"/>
<circle cx="1294.0" cy="542.5" r="12.5"/>
<circle cx="1295.2" cy="747.8" r="12.5"/>
<circle cx="1296.4" cy="345.5" r="12.5"/>
<circle cx="1297.6" cy="817.9" r="12.5"/>
<circle cx="1298.7" cy="773.2" r="12.5"/>
<circle cx="1299.9" cy="913.0" r="12.5"/>
<circle cx="1301.1" cy="920.4" r="12.5"/>
<circle cx="1302.2" cy="681.8" r="12.5"/>
<circle cx="1303.4" cy="468.8" r="12.5"/>
<circle cx="1304.6" cy="657.9" r="12.5"/>
<circle cx="1305.8" cy="730.3" r="12.5"/>
<circle cx="1306.9" cy="749.8" r="12.5"/>
<circle cx="1308.1" cy="849.0" r="12.5"/>
<circle cx="1309.3" cy="577.1" r="12.5"/>
<circle cx="1310.5" cy="852.2" r="12.5"/>
<circle cx="1311.6" cy="1097.0" r="12.5"/>
<circle cx="1312.8" cy="1190.2" r="12.5"/>
<circle cx="1314.0" cy="1103.2" r="12.5"/>
<circle cx="1315.2" cy="967.6" r="12.5"/>
<circle cx="1316.3" cy="1051.3" r="12.5"/>
<circle cx="1317.5" cy="1067.5" r="12.5"/>
<circle cx="1318.7" cy="1069.6" r="12.5"/>
<circle cx="1319.9" cy="597.3" r="12.5"/>
<circle cx="1321.0" cy="749.1" r="12.5"/>
<circle cx="1322.2" cy="970.7" r="12.5"/>
<circle cx="1323.4" cy="855.7" r="12.5"/>
<circle cx="1324.6" cy="878.1" r="12.5"/>
<circle cx="1325.7" cy="979.2" r="12.5"/>
<circle cx="1326.9" cy="485.0" r="12.5"/>
<circle cx="1328.1" cy="647.1" r="12.5"/>
<circle cx="1329.3" cy="840.4" r="12.5"/>
<circle cx="1330.4" cy="878.8" r="12.5"/>
<circle cx="1331.6" cy="568.0" r="12.5"/>
<circle cx="1332.8" cy="1260.1" r="12.5"/>
<circle cx="1333.9" cy="805.6" r="12.5"/>
<circle cx="1335.1" cy="924.1" r="12.5"/>
<circle cx="1336.3" cy="580.2" r="12.5"/>
<circle cx="1337.5" cy="838.4" r="12.5"/>
<circle cx="1338.6" cy="947.2" r="12.5"/>
<circle cx="1339.8" cy="786.7" r="12.5"/>
<circle cx="1341.0" cy="847.3" r="12.5"/>
<circle cx="1342.2" cy="984.5" r="12.5"/>
<circle cx="1343.3" cy="487.2" r="12.5"/>
<circle cx="1344.5" cy="703.9" r="12.5"/>
<circle cx="1345.7" cy="1037.3" r="12.5"/>
<circle cx="1346.9" cy="798.4" r="12.5"/>
<circle cx="1348.0" cy="940.9" r="12.5"/>
<circle cx="1349.2" cy="797.2" r="12.5"/>
<circle cx="1350.4" cy="798.6" r="12.5"/>
<circle cx="1351.6" cy="672.2" r="12.5"/>
<circle cx="1352.7" cy="503.7" r="12.5"/>
<circle cx="1353.9" cy="914.0" r="12.5"/>
<circle cx="1355.1" cy="513.0" r="12.5"/>
<circle cx="1356.3" cy="694.2" r="12.5"/>
<circle cx="1357.4" cy="766.2" r="12.5"/>
<circle cx="1358.6" cy="684.7" r="12.5"/>
<circle cx="1359.8" cy="566.7" r="12.5"/>
<circle cx="1360.9" cy="745.7" r="12.5"/>
<circle cx="1362.1" cy="527.0" r="12.5"/>
<circle cx="1363.3" cy="721.5" r="12.5"/>
<circle cx="1364.5" cy="688.5" r="12.5"/>
<circle cx="1365.6" cy="877.6" r="12.5"/>
<circle cx="1366.8" cy="982.2" r="12.5"/>
<circle cx="1368.0" cy="808.2" r="12.5"/>
<circle cx="1369.2" cy="1142.9" r="12.5"/>
<circle cx="1370.3" cy="923.7" r="12.5"/>
<circle cx="1371.5" cy="1201.4" r="12.5"/>
<circle cx="1372.7" cy="1252.4" r="12.5"/>
<circle cx="1373.9" cy="1232.5" r="12.5"/>
<circle cx="1375.0" cy="942.3" r="12.5"/>
<circle cx="1376.2" cy="881.3" r="12.5"/>
<circle cx="1377.4" cy="592.6" r="12.5"/>
<circle cx="1378.6" cy="939.3" r="12.5"/>
<circle cx="1379.7" cy="794.6" r="12.5"/>
<circle cx="1380.9" cy="1196.8" r="12.5"/>
<circle cx="1382.1" cy="1107.2" r="12.5"/>
<circle cx="1383.3" cy="1039.5" r="12.5"/>
<circle cx="1384.4" cy="860.1" r="12.5"/>
<circle cx="1385.6" cy="559.6" r="12.5"/>
<circle cx="1386.8" cy="866.5" r="12.5"/>
<circle cx="1387.9" cy="798.3" r="12.5"/>
<circle cx="1389.1" cy="800.6" r="12.5"/>
<circle cx="1390.3" cy="847.0" r="12.5"/>
<circle cx="1391.5" cy="795.2" r="12.5"/>
<circle cx="1392.6" cy="881.4" r="12.5"/>
<circle cx="1393.8" cy="851.4" r="12.5"/>
<circle cx="1395.0" cy="637.0" r="12.5"/>
<circle cx="1396.2" cy="449.9" r="12.5"/>
<circle cx="1397.3" cy="766.8" r="12.5"/>
<circle cx="1398.5" cy="1140.4" r="12.5"/>
<circle cx="1399.7" cy="721.5" r="12.5"/>
<circle cx="1400.9" cy="860.3" r="12.5"/>
<circle cx="1402.0" cy="1138.0" r="12.5"/>
<circle cx="1403.2" cy="747.1" r="12.5"/>
<circle cx="1404.4" cy="672.2" r="12.5"/>
<circle cx="1405.6" cy="667.4" r="12.5"/>
<circle cx="1406.7" cy="877.9" r="12.5"/>
<circle cx="1407.9" cy="617.5" r="12.5"/>
<circle cx="1409.1" cy="749.2" r="12.5"/>
<circle cx="1410.3" cy="608.1" r="12.5"/>
<circle cx="1411.4" cy="758.6" r="12.5"/>
<circle cx="1412.6" cy="727.1" r="12.5"/>
<circle cx="1413.8" cy="705.1" r="12.5"/>
<circle cx="1414.9" cy="598.8" r="12.5"/>
<circle cx="1416.1" cy="715.9" r="12.5"/>
<circle cx="1417.3" cy="689.6" r="12.5"/>
<circle cx="1418.5" cy="588.0" r="12.5"/>
<circle cx="1419.6" cy="551.2" r="12.5"/>
<circle cx="1420.8" cy="720.8" r="12.5"/>
<circle cx="1422.0" cy="754.6" r="12.5"/>
<circle cx="1423.2" cy="447.5" r="12.5"/>
<circle cx="1424.3" cy="690.6" r="12.5"/>
<circle cx="1425.5" cy="672.1" r="12.5"/>
<circle cx="1426.7" cy="352.5" r="12.5"/>
<circle cx="1427.9" cy="637.4" r="12.5"/>
<circle cx="1429.0" cy="680.1" r="12.5"/>
<circle cx="1430.2" cy="473.7" r="12.5"/>
<circle cx="1431.4" cy="672.2" r="12.5"/>
<circle cx="1432.6" cy="640.5" r="12.5"/>
<circle cx="1433.7" cy="853.4" r="12.5"/>
<circle cx="1434.9" cy="799.5" r="12.5"/>
<circle cx="1436.1" cy="737.6" r="12.5"/>
<circle cx="1437.3" cy="800.5" r="12.5"/>
<circle cx="1438.4" cy="1022.4" r="12.5"/>
<circle cx="1439.6" cy="921.8" r="12.5"/>
<circle cx="1440.8" cy="715.4" r="12.5"/>
<circle cx="1442.0" cy="820.6" r="12.5"/>
<circle cx="1443.1" cy="909.7" r="12.5"/>
<circle cx="1444.3" cy="594.2" r="12.5"/>
<circle cx="1445.5" cy="484.4" r="12.5"/>
<circle cx="1446.6" cy="639.3" r="12.5"/>
<circle cx="1447.8" cy="921.1" r="12.5"/>
<circle cx="1449.0" cy="789.0" r="12.5"/>
<circle cx="1450.2" cy="1020.9" r="12.5"/>
<circle cx="1451.3" cy="860.8" r="12.5"/>
<circle cx="1452.5" cy="772.2" r="12.5"/>
<circle cx="1453.7" cy="741.3" r="12.5"/>
<circle cx="1454.9" cy="908.5" r="12.5"/>
<circle cx="1456.0" cy="1018.7" r="12.5"/>
<circle cx="1457.2" cy="863.2" r="12.5"/>
<circle cx="1458.4" cy="1160.5" r="12.5"/>
<circle cx="1459.6" cy="889.5" r="12.5"/>
<circle cx="1460.7" cy="1104.1" r="12.5"/>
<circle cx="1461.9" cy="971.1" r="12.5"/>
<circle cx="1463.1" cy="1085.5" r="12.5"/>
<circle cx="1464.3" cy="757.8" r="12.5"/>
<circle cx="1465.4" cy="860.5" r="12.5"/>
<circle cx="1466.6" cy="904.4" r="12.5"/>
<circle cx="1467.8" cy="935.6" r="12.5"/>
<circle cx="1469.0" cy="524.8" r="12.5"/>
<circle cx="1470.1" cy="599.8" r="12.5"/>
<circle cx="1471.3" cy="562.0" r="12.5"/>
<circle cx="1472.5" cy="819.6" r="12.5"/>
<circle cx="1473.6" cy="750.6" r="12.5"/>
<circle cx="1474.8" cy="805.4" r="12.5"/>
<circle cx="1476.0" cy="654.5" r="12.5"/>
<circle cx="1477.2" cy="988.4" r="12.5"/>
<circle cx="1478.3" cy="959.7" r="12.5"/>
<circle cx="1479.5" cy="763.9" r="12.5"/>
<circle cx="1480.7" cy="938.1" r="12.5"/>
<circle cx="1481.9" cy="572.4" r="12.5"/>
<circle cx="1483.0" cy="1056.0" r="12.5"/>
<circle cx="1484.2" cy="777.0" r="12.5"/>
<circle cx="1485.4" cy="562.7" r="12.5"/>
<circle cx="1486.6" cy="564.2" r="12.5"/>
<circle cx="1487.7" cy="623.7" r="12.5"/>
<circle cx="1488.9" cy="829.3" r="12.5"/>
<circle cx="1490.1" cy="699.1" r="12.5"/>
<circle cx="1491.3" cy="711.9" r="12.5"/>
<circle cx="1492.4" cy="1011.6" r="12.5"/>
<circle cx="1493.6" cy="665.4" r="12.5"/>
<circle cx="1494.8" cy="694.6" r="12.5"/>
<circle cx="1496.0" cy="674.3" r="12.5"/>
<circle cx="1497.1" cy="741.9" r="12.5"/>
<circle cx="1498.3" cy="690.5" r="12.5"/>
<circle cx="1499.5" cy="367.5" r="12.5"/>
<circle cx="1500.6" cy="717.5" r="12.5"/>
<circle cx="1501.8" cy="814.5" r="12.5"/>
<circle cx="1503.0" cy="873.3" r="12.5"/>
<circle cx="1504.2" cy="865.2" r="12.5"/>
<circle cx="1505.3" cy="351.4" r="12.5"/>
<circle cx="1506.5" cy="594.2" r="12.5"/>
<circle cx="1507.7" cy="1254.1" r="12.5"/>
<circle cx="1508.9" cy="1141.1" r="12.5"/>
<circle cx="1510.0" cy="1063.4" r="12.5"/>
<circle cx="1511.2" cy="754.7" r="12.5"/>
<circle cx="1512.4" cy="1006.4" r="12.5"/>
<circle cx="1513.6" cy="810.6" r="12.5"/>
<circle cx="1514.7" cy="917.8" r="12.5"/>
<circle cx="1515.9" cy="578.6" r="12.5"/>
<circle cx="1517.1" cy="766.6" r="12.5"/>
<circle cx="1518.3" cy="833.6" r="12.5"/>
<circle cx="1519.4" cy="915.5" r="12.5"/>
<circle cx="1520.6" cy="804.8" r="12.5"/>
<circle cx="1521.8" cy="307.4" r="12.5"/>
<circle cx="1523.0" cy="980.9" r="12.5"/>
<circle cx="1524.1" cy="721.5" r="12.5"/>
<circle cx="1525.3" cy="697.7" r="12.5"/>
<circle cx="1526.5" cy="931.9" r="12.5"/>
<circle cx="1527.6" cy="662.4" r="12.5"/>
<circle cx="1528.8" cy="719.5" r="12.5"/>
<circle cx="1530.0" cy="556.5" r="12.5"/>
<circle cx="1531.2" cy="488.1" r="12.5"/>
<circle cx="1532.3" cy="552.4" r="12.5"/>
<circle cx="1533.5" cy="686.8" r="12.5"/>
<circle cx="1534.7" cy="855.4" r="12.5"/>
<circle cx="1535.9" cy="668.4" r="12.5"/>
<circle cx="1537.0" cy="465.3" r="12.5"/>
<circle cx="1538.2" cy="534.7" r="12.5"/>
<circle cx="1539.4" cy="673.4" r="12.5"/>
<circle cx="1540.6" cy="740.6" r="12.5"/>
<circle cx="1541.7" cy="862.4" r="12.5"/>
<circle cx="1542.9" cy="686.5" r="12.5"/>
<circle cx="1544.1" cy="654.5" r="12.5"/>
<circle cx="1545.3" cy="433.5" r="12.5"/>
<circle cx="1546.4" cy="697.0" r="12.5"/>
<circle cx="1547.6" cy="658.7" r="12.5"/>
<circle cx="1548.8" cy="804.7" r="12.5"/>
<circle cx="1550.0" cy="743.2" r="12.5"/>
<circle cx="1551.1" cy="1023.0" r="12.5"/>
<circle cx="1552.3" cy="724.6" r="12.5"/>
<circle cx="1553.5" cy="752.1" r="12.5"/>
<circle cx="1554.6" cy="1014.7" r="12.5"/>
<circle cx="1555.8" cy="591.0" r="12.5"/>
<circle cx="1557.0" cy="759.2" r="12.5"/>
<circle cx="1558.2" cy="878.5" r="12.5"/>
<circle cx="1559.3" cy="738.6" r="12.5"/>
<circle cx="1560.5" cy="940.9" r="12.5"/>
<circle cx="1561.7" cy="793.6" r="12.5"/>
<circle cx="1562.9" cy="740.3" r="12.5"/>
<circle cx="1564.0" cy="858.3" r="12.5"/>
<circle cx="1565.2" cy="829.8" r="12.5"/>
<circle cx="1566.4" cy="895.8" r="12.5"/>
<circle cx="1567.6" cy="767.7" r="12.5"/>
<circle cx="1568.7" cy="854.1" r="12.5"/>
<circle cx="1569.9" cy="641.7" r="12.5"/>
<circle cx="1571.1" cy="700.7" r="12.5"/>
<circle cx="1572.3" cy="547.1" r="12.5"/>
<circle cx="1573.4" cy="781.8" r="12.5"/>
<circle cx="1574.6" cy="923.5" r="12.5"/>
<circle cx="1575.8" cy="636.6" r="12.5"/>
<circle cx="1577.0" cy="674.0" r="12.5"/>
<circle cx="1578.1" cy="753.1" r="12.5"/>
<circle cx="1579.3" cy="793.9" r="12.5"/>
<circle cx="1580.5" cy="808.5" r="12.5"/>
<circle cx="1581.7" cy="894.8" r="12.5"/>
<circle cx="1582.8" cy="1108.4" r="12.5"/>
<circle cx="1584.0" cy="676.1" r="12.5"/>
<circle cx="1585.2" cy="849.5" r="12.5"/>
<circle cx="1586.3" cy="985.4" r="12.5"/>
<circle cx="1587.5" cy="565.8" r="12.5"/>
<circle cx="1588.7" cy="384.3" r="12.5"/>
<circle cx="1589.9" cy="882.0" r="12.5"/>
<circle cx="1591.0" cy="1005.9" r="12.5"/>
<circle cx="1592.2" cy="721.6" r="12.5"/>
<circle cx="1593.4" cy="702.5" r="12.5"/>
<circle cx="1594.6" cy="640.3" r="12.5"/>
<circle cx="1595.7" cy="621.9" r="12.5"/>
<circle cx="1596.9" cy="850.7" r="12.5"/>
<circle cx="1598.1" cy="723.7" r="12.5"/>
<circle cx="1599.3" cy="696.7" r="12.5"/>
<circle cx="1600.4" cy="729.6" r="12.5"/>
<circle cx="1601.6" cy="844.4" r="12.5"/>
<circle cx="1602.8" cy="692.6" r="12.5"/>
<circle cx="1604.0" cy="248.3" r="12.5"/>
<circle cx="1605.1" cy="592.6" r="12.5"/>
<circle cx="1606.3" cy="562.7" r="12.5"/>
<circle cx="1607.5" cy="680.6" r="12.5"/>
<circle cx="1608.7" cy="637.7" r="12.5"/>
<circle cx="1609.8" cy="715.5" r="12.5"/>
<circle cx="1611.0" cy="734.7" r="12.5"/>
<circle cx="1612.2" cy="551.2" r="12.5"/>
<circle cx="1613.3" cy="591.1" r="12.5"/>
<circle cx="1614.5" cy="764.3" r="12.5"/>
<circle cx="1615.7" cy="762.3" r="12.5"/>
<circle cx="1616.9" cy="600.4" r="12.5"/>
<circle cx="1618.0" cy="629.9" r="12.5"/>
<circle cx="1619.2" cy="816.0" r="12.5"/>
<circle cx="1620.4" cy="769.3" r="12.5"/>
<circle cx="1621.6" cy="1101.6" r="12.5"/>
<circle cx="1622.7" cy="720.8" r="12.5"/>
<circle cx="1623.9" cy="746.5" r="12.5"/>
<circle cx="1625.1" cy="688.6" r="12.5"/>
<circle cx="1626.3" cy="713.3" r="12.5"/>
<circle cx="1627.4" cy="772.6" r="12.5"/>
<circle cx="1628.6" cy="963.2" r="12.5"/>
<circle cx="1629.8" cy="796.7" r="12.5"/>
<circle cx="1631.0" cy="733.7" r="12.5"/>
<circle cx="1632.1" cy="966.1" r="12.5"/>
<circle cx="1633.3" cy="937.5" r="12.5"/>
<circle cx="1634.5" cy="467.1" r="12.5"/>
<circle cx="1635.7" cy="425.1" r="12.5"/>
<circle cx="1636.8" cy="866.4" r="12.5"/>
<circle cx="1638.0" cy="871.8" r="12.5"/>
<circle cx="1639.2" cy="780.7" r="12.5"/>
<circle cx="1640.3" cy="855.4" r="12.5"/>
<circle cx="1641.5" cy="725.2" r="12.5"/>
<circle cx="1642.7" cy="906.0" r="12.5"/>
<circle cx="1643.9" cy="808.1" r="12.5"/>
<circle cx="1645.0" cy="1014.7" r="12.5"/>
<circle cx="1646.2" cy="1089.2" r="12.5"/>
<circle cx="1647.4" cy="623.7" r="12.5"/>
<circle cx="1648.6" cy="592.6" r="12.5"/>
<circle cx="1649.7" cy="857.6" r="12.5"/>
<circle cx="1650.9" cy="901.9" r="12.5"/>
<circle cx="1652.1" cy="553.4" r="12.5"/>
<circle cx="1653.3" cy="682.8" r="12.5"/>
<circle cx="1654.4" cy="771.5" r="12.5"/>
<circle cx="1655.6" cy="724.3" r="12.5"/>
<circle cx="1656.8" cy="816.7" r="12.5"/>
<circle cx="1658.0" cy="1219.2" r="12.5"/>
<circle cx="1659.1" cy="1064.3" r="12.5"/>
<circle cx="1660.3" cy="727.0" r="12.5"/>
<circle cx="1661.5" cy="745.1" r="12.5"/>
<circle cx="1662.7" cy="838.4" r="12.5"/>
<circle cx="1663.8" cy="995.5" r="12.5"/>
<circle cx="1665.0" cy="752.1" r="12.5"/>
<circle cx="1666.2" cy="768.5" r="12.5"/>
<circle cx="1667.3" cy="819.6" r="12.5"/>
<circle cx="1668.5" cy="794.4" r="12.5"/>
<circle cx="1669.7" cy="629.9" r="12.5"/>
<circle cx="1670.9" cy="793.0" r="12.5"/>
<circle cx="1672.0" cy="794.6" r="12.5"/>
<circle cx="1673.2" cy="931.7" r="12.5"/>
<circle cx="1674.4" cy="835.9" r="12.5"/>
<circle cx="1675.6" cy="790.3" r="12.5"/>
<circle cx="1676.7" cy="555.5" r="12.5"/>
<circle cx="1677.9" cy="852.1" r="12.5"/>
<circle cx="1679.1" cy="888.2" r="12.5"/>
<circle cx="1680.3" cy="638.2" r="12.5"/>
<circle cx="1681.4" cy="715.9" r="12.5"/>
<circle cx="1682.6" cy="1086.1" r="12.5"/>
<circle cx="1683.8" cy="833.4" r="12.5"/>
<circle cx="1685.0" cy="869.2" r="12.5"/>
<circle cx="1686.1" cy="1009.4" r="12.5"/>
<circle cx="1687.3" cy="1063.4" r="12.5"/>
<circle cx="1688.5" cy="976.3" r="12.5"/>
<circle cx="1689.7" cy="379.4" r="12.5"/>
<circle cx="1690.8" cy="837.5" r="12.5"/>
<circle cx="1692.0" cy="676.3" r="12.5"/>
<circle cx="1693.2" cy="984.1" r="12.5"/>
<circle cx="1694.3" cy="839.8" r="12.5"/>
<circle cx="1695.5" cy="619.0" r="12.5"/>
<circle cx="1696.7" cy="532.2" r="12.5"/>
<circle cx="1697.9" cy="563.3" r="12.5"/>
<circle cx="1699.0" cy="586.9" r="12.5"/>
<circle cx="1700.2" cy="455.5" r="12.5"/>
<circle cx="1701.4" cy="666.8" r="12.5"/>
<circle cx="1702.6" cy="690.3" r="12.5"/>
<circle cx="1703.7" cy="651.9" r="12.5"/>
<circle cx="1704.9" cy="760.8" r="12.5"/>
<circle cx="1706.1" cy="777.6" r="12.5"/>
<circle cx="1707.3" cy="699.5" r="12.5"/>
<circle cx="1708.4" cy="696.3" r="12.5"/>
<circle cx="1709.6" cy="903.9" r="12.5"/>
<circle cx="1710.8" cy="662.3" r="12.5"/>
<circle cx="1712.0" cy="509.9" r="12.5"/>
<circle cx="1713.1" cy="953.8" r="12.5"/>
<circle cx="1714.3" cy="623.7" r="12.5"/>
<circle cx="1715.5" cy="818.9" r="12.5"/>
<circle cx="1716.7" cy="517.6" r="12.5"/>
<circle cx="1717.8" cy="465.6" r="12.5"/>
<circle cx="1719.0" cy="772.9" r="12.5"/>
<circle cx="1720.2" cy="672.6" r="12.5"/>
<circle cx="1721.4" cy="840.5" r="12.5"/>
<circle cx="1722.5" cy="781.3" r="12.5"/>
<circle cx="1723.7" cy="842.7" r="12.5"/>
<circle cx="1724.9" cy="829.7" r="12.5"/>
<circle cx="1726.0" cy="739.4" r="12.5"/>
<circle cx="1727.2" cy="662.3" r="12.5"/>
<circle cx="1728.4" cy="734.5" r="12.5"/>
<circle cx="1729.6" cy="669.4" r="12.5"/>
<circle cx="1730.7" cy="845.3" r="12.5"/>
<circle cx="1731.9" cy="601.9" r="12.5"/>
<circle cx="1733.1" cy="578.6" r="12.5"/>
<circle cx="1734.3" cy="547.1" r="12.5"/>
<circle cx="1735.4" cy="641.5" r="12.5"/>
<circle cx="1736.6" cy="690.8" r="12.5"/>
<circle cx="1737.8" cy="642.5" r="12.5"/>
<circle cx="1739.0" cy="1119.3" r="12.5"/>
<circle cx="1740.1" cy="845.8" r="12.5"/>
<circle cx="1741.3" cy="846.3" r="12.5"/>
<circle cx="1742.5" cy="699.1" r="12.5"/>
<circle cx="1743.7" cy="782.3" r="12.5"/>
<circle cx="1744.8" cy="849.9" r="12.5"/>
<circle cx="1746.0" cy="938.0" r="12.5"/>
<circle cx="1747.2" cy="886.2" r="12.5"/>
<circle cx="1748.4" cy="811.7" r="12.5"/>
<circle cx="1749.5" cy="568.0" r="12.5"/>
<circle cx="1750.7" cy="1016.2" r="12.5"/>
<circle cx="1751.9" cy="777.4" r="12.5"/>
<circle cx="1753.0" cy="915.0" r="12.5"/>
<circle cx="1754.2" cy="888.2" r="12.5"/>
<circle cx="1755.4" cy="779.2" r="12.5"/>
<circle cx="1756.6" cy="931.0" r="12.5"/>
<circle cx="1757.7" cy="523.9" r="12.5"/>
<circle cx="1758.9" cy="697.8" r="12.5"/>
<circle cx="1760.1" cy="597.3" r="12.5"/>
<circle cx="1761.3" cy="1031.1" r="12.5"/>
<circle cx="1762.4" cy="1076.8" r="12.5"/>
<circle cx="1763.6" cy="853.3" r="12.5"/>
<circle cx="1764.8" cy="1126.5" r="12.5"/>
<circle cx="1766.0" cy="901.8" r="12.5"/>
<circle cx="1767.1" cy="1020.9" r="12.5"/>
<circle cx="1768.3" cy="1152.8" r="12.5"/>
<circle cx="1769.5" cy="1054.4" r="12.5"/>
<circle cx="1770.7" cy="1007.8" r="12.5"/>
<circle cx="1771.8" cy="966.7" r="12.5"/>
<circle cx="1773.0" cy="901.6" r="12.5"/>
<circle cx="1774.2" cy="608.1" r="12.5"/>
<circle cx="1775.4" cy="578.6" r="12.5"/>
<circle cx="1776.5" cy="935.2" r="12.5"/>
<circle cx="1777.7" cy="1038.0" r="12.5"/>
<circle cx="1778.9" cy="793.6" r="12.5"/>
<circle cx="1780.0" cy="818.0" r="12.5"/>
<circle cx="1781.2" cy="1073.7" r="12.5"/>
<circle cx="1782.4" cy="833.5" r="12.5"/>
<circle cx="1783.6" cy="579.3" r="12.5"/>
<circle cx="1784.7" cy="984.6" r="12.5"/>
<circle cx="1785.9" cy="373.1" r="12.5"/>
<circle cx="1787.1" cy="665.6" r="12.5"/>
<circle cx="1788.3" cy="812.0" r="12.5"/>
<circle cx="1789.4" cy="719.9" r="12.5"/>
<circle cx="1790.6" cy="859.9" r="12.5"/>
<circle cx="1791.8" cy="804.4" r="12.5"/>
<circle cx="1793.0" cy="1241.2" r="12.5"/>
<circle cx="1794.1" cy="1072.1" r="12.5"/>
<circle cx="1795.3" cy="796.6" r="12.5"/>
<circle cx="1796.5" cy="863.9" r="12.5"/>
<circle cx="1797.7" cy="1081.4" r="12.5"/>
<circle cx="1798.8" cy="802.5" r="12.5"/>
<circle cx="1800.0" cy="913.4" r="12.5"/>
<circle cx="1801.2" cy="679.7" r="12.5"/>
<circle cx="1802.4" cy="544.0" r="12.5"/>
<circle cx="1803.5" cy="1001.2" r="12.5"/>
<circle cx="1804.7" cy="896.5" r="12.5"/>
<circle cx="1805.9" cy="720.2" r="12.5"/>
<circle cx="1807.0" cy="841.7" r="12.5"/>
<circle cx="1808.2" cy="856.7" r="12.5"/>
<circle cx="1809.4" cy="979.7" r="12.5"/>
<circle cx="1810.6" cy="1038.6" r="12.5"/>
<circle cx="1811.7" cy="690.1" r="12.5"/>
<circle cx="1812.9" cy="594.2" r="12.5"/>
<circle cx="1814.1" cy="997.8" r="12.5"/>
<circle cx="1815.3" cy="1051.9" r="12.5"/>
<circle cx="1816.4" cy="1287.3" r="12.5"/>
<circle cx="1817.6" cy="578.6" r="12.5"/>
<circle cx="1818.8" cy="615.9" r="12.5"/>
<circle cx="1820.0" cy="766.0" r="12.5"/>
<circle cx="1821.1" cy="792.4" r="12.5"/>
<circle cx="1822.3" cy="710.0" r="12.5"/>
<circle cx="1823.5" cy="668.9" r="12.5"/>
<circle cx="1824.7" cy="1037.3" r="12.5"/>
<circle cx="1825.8" cy="861.3" r="12.5"/>
<circle cx="1827.0" cy="384.3" r="12.5"/>
<circle cx="1828.2" cy="870.4" r="12.5"/>
<circle cx="1829.4" cy="1053.5" r="12.5"/>
<circle cx="1830.5" cy="817.6" r="12.5"/>
<circle cx="1831.7" cy="532.2" r="12.5"/>
<circle cx="1832.9" cy="960.8" r="12.5"/>
<circle cx="1834.0" cy="565.8" r="12.5"/>
<circle cx="1835.2" cy="692.8" r="12.5"/>
<circle cx="1836.4" cy="797.6" r="12.5"/>
<circle cx="1837.6" cy="551.8" r="12.5"/>
<circle cx="1838.7" cy="709.0" r="12.5"/>
<circle cx="1839.9" cy="841.1" r="12.5"/>
<circle cx="1841.1" cy="717.0" r="12.5"/>
<circle cx="1842.3" cy="791.5" r="12.5"/>
<circle cx="1843.4" cy="743.7" r="12.5"/>
<circle cx="1844.6" cy="866.4" r="12.5"/>
<circle cx="1845.8" cy="1014.7" r="12.5"/>
<circle cx="1847.0" cy="692.5" r="12.5"/>
<circle cx="1848.1" cy="878.4" r="12.5"/>
<circle cx="1849.3" cy="1007.9" r="12.5"/>
<circle cx="1850.5" cy="757.2" r="12.5"/>
<circle cx="1851.7" cy="865.8" r="12.5"/>
<circle cx="1852.8" cy="930.7" r="12.5"/>
<circle cx="1854.0" cy="637.7" r="12.5"/>
<circle cx="1855.2" cy="834.5" r="12.5"/>
<circle cx="1856.4" cy="1022.4" r="12.5"/>
<circle cx="1857.5" cy="943.3" r="12.5"/>
<circle cx="1858.7" cy="514.5" r="12.5"/>
<circle cx="1859.9" cy="580.2" r="12.5"/>
<circle cx="1861.1" cy="1059.7" r="12.5"/>
<circle cx="1862.2" cy="620.6" r="12.5"/>
<circle cx="1863.4" cy="857.9" r="12.5"/>
<circle cx="1864.6" cy="761.6" r="12.5"/>
<circle cx="1865.7" cy="834.1" r="12.5"/>
<circle cx="1866.9" cy="1037.3" r="12.5"/>
<circle cx="1868.1" cy="687.0" r="12.5"/>
<circle cx="1869.3" cy="718.8" r="12.5"/>
<circle cx="1870.4" cy="935.7" r="12.5"/>
<circle cx="1871.6" cy="1047.3" r="12.5"/>
<circle cx="1872.8" cy="890.9" r="12.5"/>
<circle cx="1874.0" cy="1072.1" r="12.5"/>
<circle cx="1875.1" cy="789.9" r="12.5"/>
<circle cx="1876.3" cy="629.9" r="12.5"/>
<circle cx="1877.5" cy="897.1" r="12.5"/>
<circle cx="1878.7" cy="1144.2" r="12.5"/>
<circle cx="1879.8" cy="1145.7" r="12.5"/>
<circle cx="1881.0" cy="945.3" r="12.5"/>
<circle cx="1882.2" cy="809.7" r="12.5"/>
<circle cx="1883.4" cy="1061.2" r="12.5"/>
<circle cx="1884.5" cy="866.2" r="12.5"/>
<circle cx="1885.7" cy="1004.6" r="12.5"/>
<circle cx="1886.9" cy="1014.7" r="12.5"/>
<circle cx="1888.1" cy="568.9" r="12.5"/>
<circle cx="1889.2" cy="941.4" r="12.5"/>
<circle cx="1890.4" cy="913.6" r="12.5"/>
<circle cx="1891.6" cy="858.1" r="12.5"/>
<circle cx="1892.7" cy="892.1" r="12.5"/>
<circle cx="1893.9" cy="669.4" r="12.5"/>
<circle cx="1895.1" cy="409.1" r="12.5"/>
<circle cx="1896.3" cy="872.0" r="12.5"/>
<circle cx="1897.4" cy="886.4" r="12.5"/>
<circle cx="1898.6" cy="744.9" r="12.5"/>
<circle cx="1899.8" cy="1022.4" r="12.5"/>
<circle cx="1901.0" cy="608.1" r="12.5"/>
<circle cx="1902.1" cy="985.8" r="12.5"/>
<circle cx="1903.3" cy="881.8" r="12.5"/>
<circle cx="1904.5" cy="628.3" r="12.5"/>
<circle cx="1905.7" cy="1057.2" r="12.5"/>
<circle cx="1906.8" cy="746.7" r="12.5"/>
<circle cx="1908.0" cy="939.1" r="12.5"/>
<circle cx="1909.2" cy="890.0" r="12.5"/>
<circle cx="1910.4" cy="687.8" r="12.5"/>
<circle cx="1911.5" cy="742.9" r="12.5"/>
<circle cx="1912.7" cy="792.5" r="12.5"/>
<circle cx="1913.9" cy="781.5" r="12.5"/>
<circle cx="1915.1" cy="894.0" r="12.5"/>
<circle cx="1916.2" cy="777.6" r="12.5"/>
<circle cx="1917.4" cy="1074.6" r="12.5"/>
<circle cx="1918.6" cy="1079.9" r="12.5"/>
<circle cx="1919.7" cy="846.6" r="12.5"/>
<circle cx="1920.9" cy="625.2" r="12.5"/>
<circle cx="1922.1" cy="641.5" r="12.5"/>
<circle cx="1923.3" cy="796.1" r="12.5"/>
<circle cx="1924.4" cy="628.9" r="12.5"/>
<circle cx="1925.6" cy="871.2" r="12.5"/>
<circle cx="1926.8" cy="454.1" r="12.5"/>
<circle cx="1928.0" cy="819.0" r="12.5"/>
<circle cx="1929.1" cy="798.8" r="12.5"/>
<circle cx="1930.3" cy="934.5" r="12.5"/>
<circle cx="1931.5" cy="866.5" r="12.5"/>
<circle cx="1932.7" cy="652.9" r="12.5"/>
<circle cx="1933.8" cy="390.2" r="12.5"/>
<circle cx="1935.0" cy="933.6" r="12.5"/>
<circle cx="1936.2" cy="865.5" r="12.5"/>
<circle cx="1937.4" cy="699.6" r="12.5"/>
<circle cx="1938.5" cy="664.8" r="12.5"/>
<circle cx="1939.7" cy="914.4" r="12.5"/>
<circle cx="1940.9" cy="1097.9" r="12.5"/>
<circle cx="1942.1" cy="1185.3" r="12.5"/>
<circle cx="1943.2" cy="1043.2" r="12.5"/>
<circle cx="1944.4" cy="720.0" r="12.5"/>
<circle cx="1945.6" cy="485.0" r="12.5"/>
<circle cx="1946.7" cy="907.6" r="12.5"/>
<circle cx="1947.9" cy="518.3" r="12.5"/>
<circle cx="1949.1" cy="601.9" r="12.5"/>
<circle cx="1950.3" cy="640.1" r="12.5"/>
<circle cx="1951.4" cy="419.2" r="12.5"/>
<circle cx="1952.6" cy="678.3" r="12.5"/>
<circle cx="1953.8" cy="617.5" r="12.5"/>
<circle cx="1955.0" cy="748.7" r="12.5"/>
<circle cx="1956.1" cy="669.5" r="12.5"/>
<circle cx="1957.3" cy="678.1" r="12.5"/>
<circle cx="1958.5" cy="817.6" r="12.5"/>
<circle cx="1959.7" cy="538.8" r="12.5"/>
<circle cx="1960.8" cy="613.7" r="12.5"/>
<circle cx="1962.0" cy="798.4" r="12.5"/>
<circle cx="1963.2" cy="671.5" r="12.5"/>
<circle cx="1964.4" cy="818.5" r="12.5"/>
<circle cx="1965.5" cy="957.0" r="12.5"/>
<circle cx="1966.7" cy="860.4" r="12.5"/>
<circle cx="1967.9" cy="608.1" r="12.5"/>
<circle cx="1969.1" cy="594.2" r="12.5"/>
<circle cx="1970.2" cy="527.9" r="12.5"/>
<circle cx="1971.4" cy="739.7" r="12.5"/>
<circle cx="1972.6" cy="677.9" r="12.5"/>
<circle cx="1973.7" cy="1225.1" r="12.5"/>
<circle cx="1974.9" cy="1123.4" r="12.5"/>
<circle cx="1976.1" cy="658.8" r="12.5"/>
<circle cx="1977.3" cy="1125.5" r="12.5"/>
<circle cx="1978.4" cy="840.9" r="12.5"/>
<circle cx="1979.6" cy="888.3" r="12.5"/>
<circle cx="1980.8" cy="972.1" r="12.5"/>
<circle cx="1982.0" cy="590.4" r="12.5"/>
<circle cx="1983.1" cy="550.2" r="12.5"/>
<circle cx="1984.3" cy="840.8" r="12.5"/>
<circle cx="1985.5" cy="764.7" r="12.5"/>
<circle cx="1986.7" cy="551.8" r="12.5"/>
<circle cx="1987.8" cy="976.4" r="12.5"/>
<circle cx="1989.0" cy="616.8" r="12.5"/>
<circle cx="1990.2" cy="652.4" r="12.5"/>
<circle cx="1991.4" cy="666.7" r="12.5"/>
<circle cx="1992.5" cy="603.9" r="12.5"/>
<circle cx="1993.7" cy="1174.5" r="12.5"/>
<circle cx="1994.9" cy="913.4" r="12.5"/>
<circle cx="1996.1" cy="1054.1" r="12.5"/>
<circle cx="1997.2" cy="1128.9" r="12.5"/>
<circle cx="1998.4" cy="647.0" r="12.5"/>
<circle cx="1999.6" cy="862.5" r="12.5"/>
<circle cx="2000.8" cy="873.8" r="12.5"/>
<circle cx="2001.9" cy="995.0" r="12.5"/>
<circle cx="2003.1" cy="1089.2" r="12.5"/>
<circle cx="2004.3" cy="933.3" r="12.5"/>
<circle cx="2005.4" cy="921.9" r="12.5"/>
<circle cx="2006.6" cy="572.4" r="12.5"/>
<circle cx="2007.8" cy="719.6" r="12.5"/>
<circle cx="2009.0" cy="473.7" r="12.5"/>
<circle cx="2010.1" cy="727.5" r="12.5"/>
<circle cx="2011.3" cy="663.9" r="12.5"/>
<circle cx="2012.5" cy="825.2" r="12.5"/>
<circle cx="2013.7" cy="935.4" r="12.5"/>
<circle cx="2014.8" cy="758.0" r="12.5"/>
<circle cx="2016.0" cy="783.8" r="12.5"/>
<circle cx="2017.2" cy="1041.1" r="12.5"/>
<circle cx="2018.4" cy="1189.1" r="12.5"/>
<circle cx="2019.5" cy="1059.7" r="12.5"/>
<circle cx="2020.7" cy="846.4" r="12.5"/>
<circle cx="2021.9" cy="791.9" r="12.5"/>
<circle cx="2023.1" cy="1014.7" r="12.5"/>
<circle cx="2024.2" cy="1046.6" r="12.5"/>
<circle cx="2025.4" cy="634.5" r="12.5"/>
<circle cx="2026.6" cy="957.0" r="12.5"/>
<circle cx="2027.8" cy="793.1" r="12.5"/>
<circle cx="2028.9" cy="412.9" r="12.5"/>
<circle cx="2030.1" cy="926.9" r="12.5"/>
<circle cx="2031.3" cy="766.6" r="12.5"/>
<circle cx="2032.4" cy="594.8" r="12.5"/>
<circle cx="2033.6" cy="696.5" r="12.5"/>
<circle cx="2034.8" cy="629.9" r="12.5"/>
<circle cx="2036.0" cy="761.4" r="12.5"/>
<circle cx="2037.1" cy="540.0" r="12.5"/>
<circle cx="2038.3" cy="1083.0" r="12.5"/>
<circle cx="2039.5" cy="1086.1" r="12.5"/>
<circle cx="2040.7" cy="532.5" r="12.5"/>
<circle cx="2041.8" cy="779.0" r="12.5"/>
<circle cx="2043.0" cy="637.0" r="12.5"/>
<circle cx="2044.2" cy="590.4" r="12.5"/>
<circle cx="2045.4" cy="945.1" r="12.5"/>
<circle cx="2046.5" cy="895.2" r="12.5"/>
<circle cx="2047.7" cy="818.0" r="12.5"/>
<circle cx="2048.9" cy="1218.5" r="12.5"/>
<circle cx="2050.1" cy="971.0" r="12.5"/>
<circle cx="2051.2" cy="947.7" r="12.5"/>
<circle cx="2052.4" cy="646.3" r="12.5"/>
<circle cx="2053.6" cy="836.0" r="12.5"/>
<circle cx="2054.8" cy="950.8" r="12.5"/>
<circle cx="2055.9" cy="962.7" r="12.5"/>
<circle cx="2057.1" cy="1044.2" r="12.5"/>
<circle cx="2058.3" cy="714.6" r="12.5"/>
<circle cx="2059.4" cy="1070.6" r="12.5"/>
<circle cx="2060.6" cy="468.5" r="12.5"/>
<circle cx="2061.8" cy="1011.6" r="12.5"/>
<circle cx="2063.0" cy="869.6" r="12.5"/>
<circle cx="2064.1" cy="764.3" r="12.5"/>
<circle cx="2065.3" cy="898.7" r="12.5"/>
<circle cx="2066.5" cy="528.5" r="12.5"/>
<circle cx="2067.7" cy="525.4" r="12.5"/>
<circle cx="2068.8" cy="742.0" r="12.5"/>
<circle cx="2070.0" cy="1029.3" r="12.5"/>
<circle cx="2071.2" cy="904.3" r="12.5"/>
<circle cx="2072.4" cy="798.4" r="12.5"/>
<circle cx="2073.5" cy="804.5" r="12.5"/>
<circle cx="2074.7" cy="817.2" r="12.5"/>
<circle cx="2075.9" cy="813.7" r="12.5"/>
<circle cx="2077.1" cy="838.4" r="12.5"/>
<circle cx="2078.2" cy="726.8" r="12.5"/>
<circle cx="2079.4" cy="409.1" r="12.5"/>
<circle cx="2080.6" cy="850.2" r="12.5"/>
<circle cx="2081.8" cy="877.2" r="12.5"/>
<circle cx="2082.9" cy="827.5" r="12.5"/>
<circle cx="2084.1" cy="816.8" r="12.5"/>
<circle cx="2085.3" cy="934.6" r="12.5"/>
<circle cx="2086.4" cy="957.3" r="12.5"/>
<circle cx="2087.6" cy="521.7" r="12.5"/>
<circle cx="2088.8" cy="633.0" r="12.5"/>
<circle cx="2090.0" cy="622.1" r="12.5"/>
<circle cx="2091.1" cy="898.3" r="12.5"/>
<circle cx="2092.3" cy="1119.3" r="12.5"/>
<circle cx="2093.5" cy="749.2" r="12.5"/>
<circle cx="2094.7" cy="867.1" r="12.5"/>
<circle cx="2095.8" cy="854.8" r="12.5"/>
<circle cx="2097.0" cy="585.5" r="12.5"/>
<circle cx="2098.2" cy="593.7" r="12.5"/>
<circle cx="2099.4" cy="703.4" r="12.5"/>
<circle cx="2100.5" cy="852.1" r="12.5"/>
<circle cx="2101.7" cy="908.3" r="12.5"/>
<circle cx="2102.9" cy="544.0" r="12.5"/>
<circle cx="2104.1" cy="690.7" r="12.5"/>
<circle cx="2105.2" cy="559.6" r="12.5"/>
<circle cx="2106.4" cy="882.2" r="12.5"/>
<circle cx="2107.6" cy="672.8" r="12.5"/>
<circle cx="2108.8" cy="713.4" r="12.5"/>
<circle cx="2109.9" cy="660.1" r="12.5"/>
<circle cx="2111.1" cy="857.9" r="12.5"/>
<circle cx="2112.3" cy="585.5" r="12.5"/>
<circle cx="2113.4" cy="707.7" r="12.5"/>
<circle cx="2114.6" cy="974.2" r="12.5"/>
<circle cx="2115.8" cy="797.1" r="12.5"/>
<circle cx="2117.0" cy="468.5" r="12.5"/>
<circle cx="2118.1" cy="676.4" r="12.5"/>
<circle cx="2119.3" cy="642.3" r="12.5"/>
<circle cx="2120.5" cy="706.8" r="12.5"/>
<circle cx="2121.7" cy="964.4" r="12.5"/>
<circle cx="2122.8" cy="708.7" r="12.5"/>
<circle cx="2124.0" cy="609.7" r="12.5"/>
<circle cx="2125.2" cy="748.9" r="12.5"/>
<circle cx="2126.4" cy="813.1" r="12.5"/>
<circle cx="2127.5" cy="620.6" r="12.5"/>
<circle cx="2128.7" cy="897.1" r="12.5"/>
<circle cx="2129.9" cy="849.7" r="12.5"/>
<circle cx="2131.1" cy="873.5" r="12.5"/>
<circle cx="2132.2" cy="478.2" r="12.5"/>
<circle cx="2133.4" cy="694.4" r="12.5"/>
<circle cx="2134.6" cy="735.9" r="12.5"/>
<circle cx="2135.8" cy="449.2" r="12.5"/>
<circle cx="2136.9" cy="676.8" r="12.5"/>
<circle cx="2138.1" cy="703.6" r="12.5"/>
<circle cx="2139.3" cy="1207.3" r="12.5"/>
<circle cx="2140.5" cy="930.2" r="12.5"/>
<circle cx="2141.6" cy="796.3" r="12.5"/>
<circle cx="2142.8" cy="647.7" r="12.5"/>
<circle cx="2144.0" cy="959.3" r="12.5"/>
<circle cx="2145.1" cy="1142.0" r="12.5"/>
<circle cx="2146.3" cy="852.4" r="12.5"/>
<circle cx="2147.5" cy="968.6" r="12.5"/>
<circle cx="2148.7" cy="985.6" r="12.5"/>
<circle cx="2149.8" cy="1094.8" r="12.5"/>
<circle cx="2151.0" cy="900.8" r="12.5"/>
<circle cx="2152.2" cy="810.6" r="12.5"/>
<circle cx="2153.4" cy="1016.2" r="12.5"/>
<circle cx="2154.5" cy="822.6" r="12.5"/>
<circle cx="2155.7" cy="865.2" r="12.5"/>
<circle cx="2156.9" cy="814.5" r="12.5"/>
<circle cx="2158.1" cy="1008.4" r="12.5"/>
<circle cx="2159.2" cy="1053.5" r="12.5"/>
<circle cx="2160.4" cy="823.4" r="12.5"/>
<circle cx="2161.6" cy="1019.3" r="12.5"/>
<circle cx="2162.8" cy="599.8" r="12.5"/>
<circle cx="2163.9" cy="796.6" r="12.5"/>
<circle cx="2165.1" cy="517.6" r="12.5"/>
<circle cx="2166.3" cy="641.4" r="12.5"/>
<circle cx="2167.5" cy="818.8" r="12.5"/>
<circle cx="2168.6" cy="788.9" r="12.5"/>
<circle cx="2169.8" cy="880.3" r="12.5"/>
<circle cx="2171.0" cy="675.3" r="12.5"/>
<circle cx="2172.1" cy="863.5" r="12.5"/>
<circle cx="2173.3" cy="948.0" r="12.5"/>
<circle cx="2174.5" cy="820.2" r="12.5"/>
<circle cx="2175.7" cy="912.2" r="12.5"/>
<circle cx="2176.8" cy="880.0" r="12.5"/>
<circle cx="2178.0" cy="1214.5" r="12.5"/>
<circle cx="2179.2" cy="1110.9" r="12.5"/>
<circle cx="2180.4" cy="1022.4" r="12.5"/>
<circle cx="2181.5" cy="520.1" r="12.5"/>
<circle cx="2182.7" cy="697.1" r="12.5"/>
<circle cx="2183.9" cy="837.4" r="12.5"/>
<circle cx="2185.1" cy="530.1" r="12.5"/>
<circle cx="2186.2" cy="622.1" r="12.5"/>
<circle cx="2187.4" cy="753.7" r="12.5"/>
<circle cx="2188.6" cy="602.1" r="12.5"/>
<circle cx="2189.8" cy="372.0" r="12.5"/>
<circle cx="2190.9" cy="915.3" r="12.5"/>
<circle cx="2192.1" cy="729.9" r="12.5"/>
<circle cx="2193.3" cy="553.4" r="12.5"/>
<circle cx="2194.5" cy="666.8" r="12.5"/>
<circle cx="2195.6" cy="534.1" r="12.5"/>
<circle cx="2196.8" cy="256.4" r="12.5"/>
<circle cx="2198.0" cy="645.2" r="12.5"/>
<circle cx="2199.1" cy="1127.4" r="12.5"/>
<circle cx="2200.3" cy="625.5" r="12.5"/>
<circle cx="2201.5" cy="1107.8" r="12.5"/>
<circle cx="2202.7" cy="901.0" r="12.5"/>
<circle cx="2203.8" cy="776.0" r="12.5"/>
<circle cx="2205.0" cy="877.1" r="12.5"/>
<circle cx="2206.2" cy="927.0" r="12.5"/>
<circle cx="2207.4" cy="963.6" r="12.5"/>
<circle cx="2208.5" cy="1005.2" r="12.5"/>
<circle cx="2209.7" cy="858.7" r="12.5"/>
<circle cx="2210.9" cy="611.2" r="12.5"/>
<circle cx="2212.1" cy="782.3" r="12.5"/>
<circle cx="2213.2" cy="959.3" r="12.5"/>
<circle cx="2214.4" cy="1016.2" r="12.5"/>
<circle cx="2215.6" cy="1027.1" r="12.5"/>
<circle cx="2216.8" cy="746.3" r="12.5"/>
<circle cx="2217.9" cy="645.4" r="12.5"/>
<circle cx="2219.1" cy="864.5" r="12.5"/>
<circle cx="2220.3" cy="565.8" r="12.5"/>
<circle cx="2221.5" cy="895.5" r="12.5"/>
<circle cx="2222.6" cy="1004.4" r="12.5"/>
<circle cx="2223.8" cy="676.7" r="12.5"/>
<circle cx="2225.0" cy="1244.3" r="12.5"/>
<circle cx="2226.1" cy="729.6" r="12.5"/>
<circle cx="2227.3" cy="848.3" r="12.5"/>
<circle cx="2228.5" cy="869.2" r="12.5"/>
<circle cx="2229.7" cy="965.0" r="12.5"/>
<circle cx="2230.8" cy="789.5" r="12.5"/>
<circle cx="2232.0" cy="865.0" r="12.5"/>
<circle cx="2233.2" cy="807.5" r="12.5"/>
<circle cx="2234.4" cy="1027.1" r="12.5"/>
<circle cx="2235.5" cy="851.9" r="12.5"/>
<circle cx="2236.7" cy="989.6" r="12.5"/>
<circle cx="2237.9" cy="984.5" r="12.5"/>
<circle cx="2239.1" cy="771.4" r="12.5"/>
<circle cx="2240.2" cy="982.9" r="12.5"/>
<circle cx="2241.4" cy="783.4" r="12.5"/>
<circle cx="2242.6" cy="417.4" r="12.5"/>
<circle cx="2243.8" cy="716.0" r="12.5"/>
<circle cx="2244.9" cy="947.8" r="12.5"/>
<circle cx="2246.1" cy="739.0" r="12.5"/>
<circle cx="2247.3" cy="801.3" r="12.5"/>
<circle cx="2248.5" cy="747.0" r="12.5"/>
<circle cx="2249.6" cy="872.6" r="12.5"/>
<circle cx="2250.8" cy="802.1" r="12.5"/>
<circle cx="2252.0" cy="760.8" r="12.5"/>
<circle cx="2253.1" cy="654.9" r="12.5"/>
<circle cx="2254.3" cy="524.8" r="12.5"/>
<circle cx="2255.5" cy="732.8" r="12.5"/>
<circle cx="2256.7" cy="416.4" r="12.5"/>
<circle cx="2257.8" cy="735.2" r="12.5"/>
<circle cx="2259.0" cy="922.6" r="12.5"/>
<circle cx="2260.2" cy="747.1" r="12.5"/>
<circle cx="2261.4" cy="855.4" r="12.5"/>
<circle cx="2262.5" cy="803.9" r="12.5"/>
<circle cx="2263.7" cy="1135.2" r="12.5"/>
<circle cx="2264.9" cy="1148.8" r="12.5"/>
<circle cx="2266.1" cy="822.4" r="12.5"/>
<circle cx="2267.2" cy="763.7" r="12.5"/>
<circle cx="2268.4" cy="819.2" r="12.5"/>
<circle cx="2269.6" cy="882.9" r="12.5"/>
<circle cx="2270.8" cy="910.9" r="12.5"/>
<circle cx="2271.9" cy="758.5" r="12.5"/>
<circle cx="2273.1" cy="1023.0" r="12.5"/>
<circle cx="2274.3" cy="977.7" r="12.5"/>
<circle cx="2275.5" cy="885.2" r="12.5"/>
<circle cx="2276.6" cy="725.1" r="12.5"/>
<circle cx="2277.8" cy="887.2" r="12.5"/>
<circle cx="2279.0" cy="758.6" r="12.5"/>
<circle cx="2280.2" cy="641.4" r="12.5"/>
<circle cx="2281.3" cy="756.6" r="12.5"/>
<circle cx="2282.5" cy="669.4" r="12.5"/>
<circle cx="2283.7" cy="730.3" r="12.5"/>
<circle cx="2284.8" cy="492.8" r="12.5"/>
<circle cx="2286.0" cy="954.5" r="12.5"/>
<circle cx="2287.2" cy="613.4" r="12.5"/>
<circle cx="2288.4" cy="760.8" r="12.5"/>
<circle cx="2289.5" cy="1031.1" r="12.5"/>
<circle cx="2290.7" cy="557.4" r="12.5"/>
<circle cx="2291.9" cy="746.9" r="12.5"/>
<circle cx="2293.1" cy="700.8" r="12.5"/>
<circle cx="2294.2" cy="751.9" r="12.5"/>
<circle cx="2295.4" cy="644.7" r="12.5"/>
<circle cx="2296.6" cy="695.1" r="12.5"/>
<circle cx="2297.8" cy="937.0" r="12.5"/>
<circle cx="2298.9" cy="894.1" r="12.5"/>
<circle cx="2300.1" cy="1003.0" r="12.5"/>
<circle cx="2301.3" cy="1032.4" r="12.5"/>
<circle cx="2302.5" cy="674.3" r="12.5"/>
<circle cx="2303.6" cy="861.4" r="12.5"/>
<circle cx="2304.8" cy="867.3" r="12.5"/>
<circle cx="2306.0" cy="994.7" r="12.5"/>
<circle cx="2307.2" cy="558.0" r="12.5"/>
<circle cx="2308.3" cy="897.5" r="12.5"/>
<circle cx="2309.5" cy="783.3" r="12.5"/>
<circle cx="2310.7" cy="862.8" r="12.5"/>
<circle cx="2311.8" cy="855.4" r="12.5"/>
<circle cx="2313.0" cy="874.1" r="12.5"/>
<circle cx="2314.2" cy="452.0" r="12.5"/>
<circle cx="2315.4" cy="637.7" r="12.5"/>
<circle cx="2316.5" cy="833.4" r="12.5"/>
<circle cx="2317.7" cy="925.6" r="12.5"/>
<circle cx="2318.9" cy="591.1" r="12.5"/>
<circle cx="2320.1" cy="436.3" r="12.5"/>
<circle cx="2321.2" cy="834.9" r="12.5"/>
<circle cx="2322.4" cy="1099.1" r="12.5"/>
<circle cx="2323.6" cy="812.9" r="12.5"/>
<circle cx="2324.8" cy="775.4" r="12.5"/>
<circle cx="2325.9" cy="522.3" r="12.5"/>
<circle cx="2327.1" cy="238.2" r="12.5"/>
<circle cx="2328.3" cy="772.8" r="12.5"/>
<circle cx="2329.5" cy="885.7" r="12.5"/>
<circle cx="2330.6" cy="785.9" r="12.5"/>
<circle cx="2331.8" cy="739.0" r="12.5"/>
<circle cx="2333.0" cy="1017.8" r="12.5"/>
<circle cx="2334.2" cy="950.5" r="12.5"/>
<circle cx="2335.3" cy="471.1" r="12.5"/>
<circle cx="2336.5" cy="649.6" r="12.5"/>
<circle cx="2337.7" cy="474.8" r="12.5"/>
<circle cx="2338.8" cy="642.8" r="12.5"/>
<circle cx="2340.0" cy="975.5" r="12.5"/>
<circle cx="2341.2" cy="633.9" r="12.5"/>
<circle cx="2342.4" cy="855.1" r="12.5"/>
<circle cx="2343.5" cy="706.6" r="12.5"/>
<circle cx="2344.7" cy="674.3" r="12.5"/>
<circle cx="2345.9" cy="644.1" r="12.5"/>
<circle cx="2347.1" cy="1047.9" r="12.5"/>
<circle cx="2348.2" cy="999.9" r="12.5"/>
<circle cx="2349.4" cy="978.9" r="12.5"/>
<circle cx="2350.6" cy="950.8" r="12.5"/>
<circle cx="2351.8" cy="847.8" r="12.5"/>
<circle cx="2352.9" cy="1026.1" r="12.5"/>
<circle cx="2354.1" cy="1030.2" r="12.5"/>
<circle cx="2355.3" cy="1088.3" r="12.5"/>
<circle cx="2356.5" cy="989.0" r="12.5"/>
<circle cx="2357.6" cy="531.6" r="12.5"/>
<circle cx="2358.8" cy="821.5" r="12.5"/>
<circle cx="2360.0" cy="799.7" r="12.5"/>
<circle cx="2361.2" cy="754.7" r="12.5"/>
<circle cx="2362.3" cy="952.1" r="12.5"/>
<circle cx="2363.5" cy="778.7" r="12.5"/>
<circle cx="2364.7" cy="548.1" r="12.5"/>
<circle cx="2365.8" cy="775.8" r="12.5"/>
<circle cx="2367.0" cy="825.3" r="12.5"/>
<circle cx="2368.2" cy="634.5" r="12.5"/>
<circle cx="2369.4" cy="671.9" r="12.5"/>
<circle cx="2370.5" cy="837.3" r="12.5"/>
<circle cx="2371.7" cy="681.1" r="12.5"/>
<circle cx="2372.9" cy="914.0" r="12.5"/>
<circle cx="2374.1" cy="677.2" r="12.5"/>
<circle cx="2375.2" cy="1093.9" r="12.5"/>
<circle cx="2376.4" cy="492.8" r="12.5"/>
<circle cx="2377.6" cy="673.1" r="12.5"/>
<circle cx="2378.8" cy="928.1" r="12.5"/>
<circle cx="2379.9" cy="823.0" r="12.5"/>
<circle cx="2381.1" cy="831.3" r="12.5"/>
<circle cx="2382.3" cy="1337.5" r="12.5"/>
<circle cx="2383.5" cy="944.8" r="12.5"/>
<circle cx="2384.6" cy="751.6" r="12.5"/>
<circle cx="2385.8" cy="766.0" r="12.5"/>
<circle cx="2387.0" cy="948.0" r="12.5"/>
<circle cx="2388.2" cy="871.1" r="12.5"/>
<circle cx="2389.3" cy="786.5" r="12.5"/>
<circle cx="2390.5" cy="911.0" r="12.5"/>
<circle cx="2391.7" cy="642.3" r="12.5"/>
<circle cx="2392.8" cy="944.7" r="12.5"/>
<circle cx="2394.0" cy="1181.4" r="12.5"/>
<circle cx="2395.2" cy="685.4" r="12.5"/>
<circle cx="2396.4" cy="948.2" r="12.5"/>
<circle cx="2397.5" cy="804.2" r="12.5"/>
<circle cx="2398.7" cy="716.1" r="12.5"/>
<circle cx="2399.9" cy="750.7" r="12.5"/>
<circle cx="2401.1" cy="998.7" r="12.5"/>
<circle cx="2402.2" cy="887.4" r="12.5"/>
<circle cx="2403.4" cy="588.6" r="12.5"/>
<circle cx="2404.6" cy="838.4" r="12.5"/>
<circle cx="2405.8" cy="825.4" r="12.5"/>
<circle cx="2406.9" cy="732.3" r="12.5"/>
<circle cx="2408.1" cy="563.6" r="12.5"/>
<circle cx="2409.3" cy="734.0" r="12.5"/>
<circle cx="2410.5" cy="770.9" r="12.5"/>
<circle cx="2411.6" cy="575.5" r="12.5"/>
<circle cx="2412.8" cy="1149.3" r="12.5"/>
<circle cx="2414.0" cy="787.2" r="12.5"/>
<circle cx="2415.2" cy="1150.5" r="12.5"/>
<circle cx="2416.3" cy="721.8" r="12.5"/>
<circle cx="2417.5" cy="699.8" r="12.5"/>
<circle cx="2418.7" cy="589.5" r="12.5"/>
<circle cx="2419.9" cy="998.6" r="12.5"/>
<circle cx="2421.0" cy="648.8" r="12.5"/>
<circle cx="2422.2" cy="1062.8" r="12.5"/>
<circle cx="2423.4" cy="915.3" r="12.5"/>
<circle cx="2424.5" cy="749.8" r="12.5"/>
<circle cx="2425.7" cy="532.5" r="12.5"/>
<circle cx="2426.9" cy="961.1" r="12.5"/>
<circle cx="2428.1" cy="835.4" r="12.5"/>
<circle cx="2429.2" cy="562.0" r="12.5"/>
<circle cx="2430.4" cy="926.0" r="12.5"/>
<circle cx="2431.6" cy="691.4" r="12.5"/>
<circle cx="2432.8" cy="704.6" r="12.5"/>
<circle cx="2433.9" cy="794.3" r="12.5"/>
<circle cx="2435.1" cy="813.1" r="12.5"/>
<circle cx="2436.3" cy="757.5" r="12.5"/>
<circle cx="2437.5" cy="904.3" r="12.5"/>
<circle cx="2438.6" cy="881.0" r="12.5"/>
<circle cx="2439.8" cy="906.2" r="12.5"/>
<circle cx="2441.0" cy="746.2" r="12.5"/>
<circle cx="2442.2" cy="829.4" r="12.5"/>
<circle cx="2443.3" cy="958.8" r="12.5"/>
<circle cx="2444.5" cy="1047.3" r="12.5"/>
<circle cx="2445.7" cy="783.5" r="12.5"/>
<circle cx="2446.9" cy="763.9" r="12.5"/>
<circle cx="2448.0" cy="683.7" r="12.5"/>
<circle cx="2449.2" cy="628.9" r="12.5"/>
<circle cx="2450.4" cy="920.6" r="12.5"/>
<circle cx="2451.5" cy="830.6" r="12.5"/>
<circle cx="2452.7" cy="672.9" r="12.5"/>
<circle cx="2453.9" cy="1029.3" r="12.5"/>
<circle cx="2455.1" cy="1204.3" r="12.5"/>
<circle cx="2456.2" cy="903.2" r="12.5"/>
<circle cx="2457.4" cy="893.8" r="12.5"/>
<circle cx="2458.6" cy="411.2" r="12.5"/>
<circle cx="2459.8" cy="779.2" r="12.5"/>
<circle cx="2460.9" cy="890.7" r="12.5"/>
<circle cx="2462.1" cy="825.1" r="12.5"/>
<circle cx="2463.3" cy="880.7" r="12.5"/>
<circle cx="2464.5" cy="905.5" r="12.5"/>
<circle cx="2465.6" cy="726.7" r="12.5"/>
<circle cx="2466.8" cy="864.5" r="12.5"/>
<circle cx="2468.0" cy="1053.5" r="12.5"/>
<circle cx="2469.2" cy="965.8" r="12.5"/>
<circle cx="2470.3" cy="900.5" r="12.5"/>
<circle cx="2471.5" cy="883.3" r="12.5"/>
<circle cx="2472.7" cy="822.5" r="12.5"/>
<circle cx="2473.9" cy="744.6" r="12.5"/>
<circle cx="2475.0" cy="468.5" r="12.5"/>
<circle cx="2476.2" cy="661.5" r="12.5"/>
<circle cx="2477.4" cy="929.9" r="12.5"/>
<circle cx="2478.5" cy="819.7" r="12.5"/>
<circle cx="2479.7" cy="325.2" r="12.5"/>
<circle cx="2480.9" cy="977.0" r="12.5"/>
<circle cx="2482.1" cy="760.3" r="12.5"/>
<circle cx="2483.2" cy="603.5" r="12.5"/>
<circle cx="2484.4" cy="715.5" r="12.5"/>
<circle cx="2485.6" cy="844.5" r="12.5"/>
<circle cx="2486.8" cy="884.2" r="12.5"/>
<circle cx="2487.9" cy="895.8" r="12.5"/>
<circle cx="2489.1" cy="1082.0" r="12.5"/>
<circle cx="2490.3" cy="1039.5" r="12.5"/>
<circle cx="2491.5" cy="966.3" r="12.5"/>
<circle cx="2492.6" cy="763.0" r="12.5"/>
<circle cx="2493.8" cy="669.5" r="12.5"/>
<circle cx="2495.0" cy="513.9" r="12.5"/>
<circle cx="2496.2" cy="975.4" r="12.5"/>
<circle cx="2497.3" cy="1031.1" r="12.5"/>
<circle cx="2498.5" cy="700.9" r="12.5"/>
<circle cx="2499.7" cy="892.8" r="12.5"/>
<circle cx="2500.9" cy="986.6" r="12.5"/>
<circle cx="2502.0" cy="787.1" r="12.5"/>
<circle cx="2503.2" cy="630.8" r="12.5"/>
<circle cx="2504.4" cy="735.0" r="12.5"/>
<circle cx="2505.5" cy="525.4" r="12.5"/>
<circle cx="2506.7" cy="444.3" r="12.5"/>
<circle cx="2507.9" cy="708.4" r="12.5"/>
<circle cx="2509.1" cy="446.1" r="12.5"/>
<circle cx="2510.2" cy="764.8" r="12.5"/>
<circle cx="2511.4" cy="634.6" r="12.5"/>
<circle cx="2512.6" cy="615.9" r="12.5"/>
<circle cx="2513.8" cy="766.4" r="12.5"/>
<circle cx="2514.9" cy="683.7" r="12.5"/>
<circle cx="2516.1" cy="697.7" r="12.5"/>
<circle cx="2517.3" cy="892.8" r="12.5"/>
<circle cx="2518.5" cy="1064.3" r="12.5"/>
<circle cx="2519.6" cy="997.6" r="12.5"/>
<circle cx="2520.8" cy="996.5" r="12.5"/>
<circle cx="2522.0" cy="645.4" r="12.5"/>
<circle cx="2523.2" cy="862.5" r="12.5"/>
<circle cx="2524.3" cy="424.1" r="12.5"/>
<circle cx="2525.5" cy="744.1" r="12.5"/>
<circle cx="2526.7" cy="954.2" r="12.5"/>
<circle cx="2527.9" cy="480.4" r="12.5"/>
<circle cx="2529.0" cy="580.2" r="12.5"/>
<circle cx="2530.2" cy="833.2" r="12.5"/>
<circle cx="2531.4" cy="642.1" r="12.5"/>
<circle cx="2532.5" cy="946.1" r="12.5"/>
<circle cx="2533.7" cy="706.9" r="12.5"/>
<circle cx="2534.9" cy="732.1" r="12.5"/>
<circle cx="2536.1" cy="700.4" r="12.5"/>
<circle cx="2537.2" cy="1020.9" r="12.5"/>
<circle cx="2538.4" cy="612.8" r="12.5"/>
<circle cx="2539.6" cy="977.2" r="12.5"/>
<circle cx="2540.8" cy="792.7" r="12.5"/>
<circle cx="2541.9" cy="967.1" r="12.5"/>
<circle cx="2543.1" cy="684.6" r="12.5"/>
<circle cx="2544.3" cy="900.3" r="12.5"/>
<circle cx="2545.5" cy="744.9" r="12.5"/>
<circle cx="2546.6" cy="452.7" r="12.5"/>
<circle cx="2547.8" cy="873.1" r="12.5"/>
<circle cx="2549.0" cy="605.0" r="12.5"/>
<circle cx="2550.2" cy="788.6" r="12.5"/>
<circle cx="2551.3" cy="975.3" r="12.5"/>
<circle cx="2552.5" cy="1308.4" r="12.5"/>
<circle cx="2553.7" cy="818.1" r="12.5"/>
<circle cx="2554.9" cy="796.7" r="12.5"/>
<circle cx="2556.0" cy="1049.4" r="12.5"/>
<circle cx="2557.2" cy="886.6" r="12.5"/>
<circle cx="2558.4" cy="710.3" r="12.5"/>
<circle cx="2559.6" cy="852.8" r="12.5"/>
<circle cx="2560.7" cy="808.0" r="12.5"/>
<circle cx="2561.9" cy="545.6" r="12.5"/>
<circle cx="2563.1" cy="780.6" r="12.5"/>
<circle cx="2564.2" cy="650.3" r="12.5"/>
<circle cx="2565.4" cy="628.9" r="12.5"/>
<circle cx="2566.6" cy="850.7" r="12.5"/>
<circle cx="2567.8" cy="553.4" r="12.5"/>
<circle cx="2568.9" cy="822.2" r="12.5"/>
<circle cx="2570.1" cy="1125.5" r="12.5"/>
<circle cx="2571.3" cy="849.0" r="12.5"/>
<circle cx="2572.5" cy="766.3" r="12.5"/>
<circle cx="2573.6" cy="818.5" r="12.5"/>
<circle cx="2574.8" cy="754.4" r="12.5"/>
<circle cx="2576.0" cy="460.8" r="12.5"/>
<circle cx="2577.2" cy="636.1" r="12.5"/>
<circle cx="2578.3" cy="777.4" r="12.5"/>
<circle cx="2579.5" cy="851.0" r="12.5"/>
<circle cx="2580.7" cy="792.7" r="12.5"/>
<circle cx="2581.9" cy="735.8" r="12.5"/>
<circle cx="2583.0" cy="996.9" r="12.5"/>
<circle cx="2584.2" cy="670.7" r="12.5"/>
<circle cx="2585.4" cy="867.4" r="12.5"/>
<circle cx="2586.6" cy="835.9" r="12.5"/>
<circle cx="2587.7" cy="757.2" r="12.5"/>
<circle cx="2588.9" cy="540.0" r="12.5"/>
<circle cx="2590.1" cy="634.5" r="12.5"/>
<circle cx="2591.2" cy="804.1" r="12.5"/>
<circle cx="2592.4" cy="931.1" r="12.5"/>
<circle cx="2593.6" cy="801.3" r="12.5"/>
<circle cx="2594.8" cy="555.5" r="12.5"/>
<circle cx="2595.9" cy="1278.3" r="12.5"/>
<circle cx="2597.1" cy="677.8" r="12.5"/>
<circle cx="2598.3" cy="1068.1" r="12.5"/>
<circle cx="2599.5" cy="741.8" r="12.5"/>
<circle cx="2600.6" cy="640.1" r="12.5"/>
<circle cx="2601.8" cy="735.4" r="12.5"/>
<circle cx="2603.0" cy="914.9" r="12.5"/>
<circle cx="2604.2" cy="472.3" r="12.5"/>
<circle cx="2605.3" cy="557.4" r="12.5"/>
<circle cx="2606.5" cy="836.4" r="12.5"/>
<circle cx="2607.7" cy="691.0" r="12.5"/>
<circle cx="2608.9" cy="1100.1" r="12.5"/>
<circle cx="2610.0" cy="655.7" r="12.5"/>
<circle cx="2611.2" cy="766.7" r="12.5"/>
<circle cx="2612.4" cy="556.5" r="12.5"/>
<circle cx="2613.6" cy="440.9" r="12.5"/>
<circle cx="2614.7" cy="903.4" r="12.5"/>
</g>
<polyline points="268.1,571.8 270.3,662.6 273.2,756.6 276.3,831.7 280.4,847.4 285.1,850.5 289.7,802.0 292.9,850.5 297.0,823.9 298.2,872.4 303.2,841.1 308.5,889.7 313.2,869.3 315.7,819.2 319.5,750.3 324.2,697.1 329.5,676.7 334.5,686.1 338.3,719.0 342.0,759.7 344.6,803.6 348.3,877.1 352.7,847.4 355.5,800.4 357.7,725.3 360.2,680.8 364.0,734.7 369.6,812.9 373.4,747.2 378.4,770.7 383.1,713.4 386.8,775.4 391.5,841.1 394.7,889.7 398.4,794.2 402.5,816.1 405.6,783.2 409.7,809.8 413.4,769.1 415.6,693.9 417.2,649.5 421.3,681.4 424.4,756.6 427.5,875.6 432.9,906.3 436.3,803.6 440.1,668.9 444.1,630.7 450.4,642.3 452.3,725.3 454.8,812.9 458.9,778.5 462.0,825.5 465.7,725.9 469.8,762.8 475.5,829.5 479.2,791.0 483.3,800.4 486.1,725.3 491.1,691.4 494.9,704.9 498.0,756.6 501.8,775.4 504.3,706.5 508.0,697.7 510.5,750.3 513.7,778.5 516.8,759.7 519.9,881.8 523.7,900.6 526.2,991.4 528.1,1012.7 531.8,944.5 535.0,787.9 538.1,679.9 545.0,674.5 548.1,725.3 551.9,764.4 555.9,755.0 560.0,787.9 564.4,881.8 568.5,951.7 572.5,881.8 576.3,925.7 579.4,819.2 582.6,756.6 585.7,693.0 589.4,740.9 593.5,815.5 598.2,756.6 604.5,696.1 607.6,787.9 612.3,913.2 616.4,959.5 620.1,850.5 623.3,740.9 628.0,704.9 632.7,679.9 638.0,641.3 640.8,664.2 645.8,673.6 648.9,725.3 655.2,731.5 659.3,844.3 662.4,855.2 667.1,740.9 670.9,750.3 674.9,737.8 678.1,794.2 681.2,841.1 685.9,775.4 691.5,711.2 696.9,769.1 701.5,725.3 707.8,731.5 710.9,762.8 714.1,844.3 717.8,900.6 723.5,756.6 727.2,720.6 732.9,769.1 737.6,781.6 742.3,838.0 748.5,906.9 753.2,975.8 757.9,1011.8 761.0,944.5 764.8,819.2 767.9,740.9 771.4,715.9 775.1,769.1 778.3,775.4 781.4,910.0 786.1,819.2 790.8,734.7 796.1,730.0 800.2,787.9 803.3,822.3 808.0,753.4 814.9,748.7 819.0,819.2 823.7,891.2 828.4,756.6 832.4,672.7 837.8,693.9 843.1,725.3 847.2,662.6 850.3,690.8 855.0,642.3 858.8,681.4 862.5,672.0 865.7,775.4 869.7,756.6 872.9,731.5 877.0,714.3 879.1,819.2 882.3,825.5 884.5,795.7 887.0,881.8 889.5,953.9 893.2,928.8 896.4,953.9 898.9,850.5 901.1,734.7 904.2,693.9 907.3,679.9 911.4,693.9 913.6,784.8 918.3,756.6 922.0,723.7 924.6,719.6 927.7,787.9 930.8,869.3 934.6,822.3 937.7,825.5 940.8,850.5 944.9,809.8 948.0,834.9 953.4,790.4 956.5,881.8 960.6,934.5 964.6,850.5 966.8,756.6 970.0,681.4 976.2,675.2 979.4,709.6 982.5,755.0 986.6,693.9 989.7,637.6 993.4,624.4 996.6,631.3 999.1,693.9 1002.2,756.6 1004.4,850.5 1007.5,933.5 1011.6,850.5 1015.4,819.2 1018.5,737.8 1021.0,737.8 1024.8,800.4 1027.3,693.9 1031.0,706.5 1034.8,686.1 1037.3,756.6 1040.4,850.5 1045.1,935.1 1049.2,850.5 1052.0,838.0 1055.5,928.8 1059.2,881.8 1062.3,787.9 1066.1,775.4 1070.2,750.3 1073.3,787.9 1077.4,825.5 1080.5,756.6 1082.7,725.3 1087.4,690.8 1093.0,680.8 1096.2,734.7 1099.9,693.9 1105.6,700.2 1108.7,731.5 1111.8,819.2 1115.0,874.0 1119.3,838.0 1123.4,820.8 1126.5,853.7 1131.2,855.2 1134.4,819.2 1138.1,789.5 1141.3,850.5 1145.3,905.3 1148.5,819.2 1151.6,725.3 1154.7,647.0 1157.9,623.5 1162.6,643.8 1165.7,731.5 1168.8,850.5 1173.5,949.2 1176.6,881.8 1179.8,803.6 1182.9,787.9 1186.0,794.2 1188.5,776.9 1192.3,831.7 1197.0,834.9 1200.1,850.5 1203.3,897.5 1208.0,938.2 1212.0,850.5 1214.2,825.5 1217.4,838.0 1219.5,756.6 1222.7,749.7 1225.8,819.2 1229.9,883.4 1233.0,850.5 1236.1,844.3 1239.3,894.4 1243.3,834.9 1245.5,828.6 1248.7,858.4 1251.8,756.6 1253.4,678.3 1255.2,653.2 1258.1,709.6 1261.2,787.9 1264.3,881.8 1266.5,903.1 1270.6,819.2 1273.7,756.6 1277.8,725.3 1281.5,708.0 1285.3,725.3 1287.8,775.4 1290.9,812.9 1294.7,769.1 1297.8,731.5 1301.9,728.4 1305.0,725.3 1308.2,787.9 1311.3,850.5 1314.4,881.8 1317.6,944.5 1321.3,983.6 1324.8,881.8 1327.0,800.4 1331.0,762.8 1334.8,819.2 1337.9,844.3 1342.6,863.1 1344.8,786.3 1351.1,853.7 1353.6,819.2 1356.1,750.3 1359.8,662.6 1363.0,645.4 1366.1,709.6 1368.6,819.2 1370.8,913.2 1373.0,991.4 1374.9,1013.4 1378.6,960.1 1381.1,969.5 1384.3,859.9 1388.0,913.2 1391.8,787.9 1395.9,731.5 1399.0,787.9 1402.1,812.9 1405.2,881.8 1407.8,908.5 1411.5,819.2 1414.6,756.6 1419.3,719.0 1423.1,662.6 1426.2,627.6 1430.3,662.6 1433.4,709.6 1436.6,787.9 1441.3,820.8 1444.4,762.8 1446.6,759.7 1449.7,775.4 1452.9,766.0 1455.1,819.2 1458.2,881.8 1462.3,900.6 1464.5,908.5 1468.5,881.8 1470.7,819.2 1473.2,740.9 1476.4,703.3 1479.5,693.9 1482.6,725.3 1485.1,756.6 1488.3,725.3 1491.4,720.6 1494.5,762.8 1497.7,784.8 1500.8,740.9 1503.0,690.8 1506.1,685.2 1509.2,756.6 1512.4,819.2 1515.5,850.5 1518.6,868.7 1520.8,787.9 1522.7,719.0 1526.5,693.9 1529.6,631.3 1532.1,614.1 1535.2,647.0 1539.0,653.2 1542.1,731.5 1545.3,693.9 1547.8,684.6 1550.0,725.3 1553.1,734.7 1556.2,787.9 1559.4,825.5 1561.5,844.3 1564.7,787.9 1567.2,775.4 1569.7,756.6 1572.8,725.3 1576.0,775.4 1578.1,800.4 1581.3,850.5 1585.3,900.6 1588.5,819.2 1591.6,787.9 1594.7,750.3 1597.9,742.5 1600.1,819.2 1602.6,756.6 1604.8,687.7 1607.9,678.3 1611.0,656.4 1613.5,649.5 1616.7,693.9 1620.4,700.2 1622.9,756.6 1625.1,819.2 1628.2,866.2 1630.4,883.4 1633.6,819.2 1636.1,740.9 1639.8,714.3 1643.0,756.6 1646.1,844.3 1650.2,787.9 1654.2,753.4 1657.4,762.8 1660.5,787.9 1663.6,834.9 1666.8,861.5 1669.9,787.9 1673.0,825.5 1675.2,834.9 1677.4,772.2 1679.9,745.6 1683.1,775.4 1685.6,819.2 1688.7,839.6 1691.8,787.9 1695.0,725.3 1697.1,647.0 1699.6,624.4 1702.8,678.3 1705.6,725.3 1708.1,756.6 1711.2,781.0 1714.4,725.3 1717.5,681.4 1720.0,665.1 1723.1,725.3 1726.3,803.6 1728.5,825.5 1731.6,756.6 1734.7,709.6 1737.9,697.1 1740.0,787.9 1742.6,850.5 1746.3,894.4 1750.4,872.4 1753.5,869.3 1755.7,819.2 1758.8,776.0 1762.0,819.2 1764.5,881.8 1767.6,938.2 1770.7,955.4 1772.3,850.5 1774.8,793.5 1778.6,831.7 1780.8,828.6 1783.3,762.8 1786.4,759.7 1790.2,749.7 1792.7,803.6 1795.2,881.8 1798.3,942.9 1802.0,881.8 1805.2,819.2 1808.3,787.9 1811.4,783.2 1813.9,819.2 1817.1,866.2 1819.3,819.2 1822.4,781.6 1825.5,756.6 1828.7,747.2 1830.9,756.6 1834.0,759.7 1836.5,709.6 1839.0,662.6 1841.2,653.9 1844.3,687.7 1846.5,756.6 1849.6,803.6 1853.7,836.4 1856.9,787.9 1860.0,750.3 1862.2,743.4 1865.3,787.9 1867.8,775.4 1870.3,850.5 1872.5,910.0 1875.6,850.5 1877.8,844.3 1880.3,913.2 1882.8,931.9 1885.7,941.3 1888.8,913.2 1891.3,850.5 1893.5,756.6 1896.0,720.6 1897.6,719.0 1900.7,731.5 1904.8,719.0 1906.0,800.4 1909.1,762.8 1911.7,756.6 1914.8,800.4 1917.9,784.8 1920.4,819.2 1922.6,863.7 1925.7,819.2 1928.9,787.9 1931.1,740.9 1934.2,736.2 1936.7,787.9 1939.2,762.8 1941.4,850.5 1943.6,881.8 1946.1,892.8 1948.6,819.2 1949.9,725.3 1951.7,662.6 1953.9,649.5 1957.1,662.6 1959.3,693.9 1962.4,725.3 1965.5,733.1 1967.4,662.6 1970.2,652.6 1973.3,693.9 1975.9,787.9 1978.0,850.5 1980.5,853.7 1983.7,859.9 1985.2,787.9 1986.8,709.6 1989.0,695.5 1992.4,725.3 1995.6,819.2 1998.7,866.2 2002.5,895.9 2005.0,819.2 2007.2,740.9 2009.4,726.8 2014.1,762.8 2017.2,850.5 2020.4,944.5 2024.4,988.3 2028.2,881.8 2031.3,756.6 2034.4,709.6 2037.0,697.7 2040.1,756.6 2042.3,787.9 2044.5,750.3 2047.0,819.2 2050.1,856.8 2054.8,871.8 2058.9,863.1 2062.0,812.9 2065.8,816.1 2068.9,756.6 2071.4,745.6 2074.5,787.9 2077.7,831.7 2080.8,787.9 2083.9,740.9 2087.1,693.9 2090.2,667.3 2093.3,725.3 2096.5,781.6 2099.6,787.9 2102.7,827.0 2105.8,756.6 2108.0,725.3 2110.2,716.5 2113.4,759.7 2116.5,719.0 2120.6,725.3 2123.7,731.5 2126.8,775.4 2130.0,784.8 2133.1,740.9 2136.2,722.1 2138.4,717.4 2140.9,756.6 2143.4,819.2 2146.6,881.8 2149.7,946.0 2153.4,906.9 2156.6,928.8 2159.7,950.1 2162.2,850.5 2165.3,787.9 2169.1,734.7 2172.9,728.4 2175.4,819.2 2177.9,881.8 2180.1,916.3 2183.2,819.2 2185.4,725.3 2187.9,702.7 2191.0,706.5 2193.5,709.6 2196.7,680.8 2199.8,725.3 2202.0,781.6 2205.1,850.5 2208.2,922.6 2211.4,866.2 2214.5,819.2 2217.6,787.9 2220.8,734.7 2223.9,726.8 2227.0,775.4 2230.2,819.2 2233.3,856.8 2236.4,863.7 2238.6,787.9 2242.7,784.8 2247.4,770.7 2250.5,762.8 2254.3,795.7 2257.4,747.2 2261.5,738.4 2263.7,787.9 2266.2,850.5 2269.3,913.2 2273.1,930.4 2276.2,881.8 2279.3,838.0 2283.4,856.8 2285.6,756.6 2288.1,714.3 2291.2,731.5 2294.4,762.8 2297.5,787.9 2300.6,819.2 2304.4,841.1 2308.5,831.7 2310.7,787.9 2313.8,756.6 2316.9,712.7 2319.4,709.6 2322.6,731.5 2325.7,693.9 2328.2,675.2 2331.3,709.6 2334.5,756.6 2337.6,787.9 2338.8,715.9 2342.9,775.4 2346.0,731.5 2348.2,819.2 2350.7,897.5 2353.9,922.6 2357.6,881.8 2360.1,819.2 2363.3,756.6 2366.4,725.3 2368.9,719.6 2371.1,775.4 2373.3,838.0 2375.8,800.4 2378.3,805.1 2380.5,863.1 2383.6,819.2 2385.8,808.2 2388.3,881.8 2390.8,897.5 2393.9,850.5 2397.1,825.5 2400.2,819.2 2403.3,841.1 2405.5,775.4 2407.7,756.6 2410.9,751.9 2413.4,794.2 2416.5,816.1 2419.6,819.2 2423.4,856.8 2425.9,787.9 2428.4,736.2 2431.5,775.4 2434.7,769.1 2437.8,778.5 2440.9,825.5 2444.1,819.2 2447.8,806.7 2450.9,881.8 2454.7,905.3 2457.2,850.5 2460.3,825.5 2463.5,806.7 2466.6,802.0 2469.1,875.6 2472.2,866.2 2475.4,819.2 2477.6,769.1 2480.7,762.8 2484.8,730.0 2487.9,750.3 2491.0,787.9 2494.2,850.5 2499.5,885.0 2502.6,834.9 2505.7,756.6 2507.9,693.9 2510.4,677.7 2515.1,681.4 2517.3,756.6 2520.5,831.7 2523.6,787.9 2526.1,725.3 2528.6,700.2 2533.9,697.1 2537.1,756.6 2539.3,809.8 2542.4,806.7 2545.5,740.9 2548.0,737.8 2551.2,787.9 2554.3,850.5 2557.4,881.8 2560.5,906.9 2563.1,819.2 2565.2,740.9 2567.4,725.3 2570.6,787.9 2573.7,836.4 2576.8,819.2 2579.3,756.6 2582.5,731.5 2585.6,775.4 2588.1,737.8 2590.3,733.1 2593.4,730.0 2596.6,775.4 2597.1,787.9 2599.6,850.5 2601.8,868.7 2604.9,819.2 2608.0,756.6 2611.2,734.7 2613.4,731.5 2615.2,775.4 2616.2,787.9" fill="none" stroke="#4477aa" stroke-width="13.2" stroke-linejoin="round" stroke-linecap="square"/>
</g>
<g clip-path="url(#c2)" fill="#4477aa" fill-opacity="0.5" stroke="#000" stroke-opacity="0.5" stroke-width="3.7">
<rect x="2738.6" y="231.10" width="9.39" height="26.86"/>
<rect x="2738.6" y="284.82" width="7.04" height="26.86"/>
<rect x="2738.6" y="311.68" width="2.35" height="26.86"/>
<rect x="2738.6" y="338.55" width="14.08" height="26.86"/>
<rect x="2738.6" y="365.41" width="21.12" height="26.86"/>
<rect x="2738.6" y="392.27" width="23.47" height="26.86"/>
<rect x="2738.6" y="419.13" width="23.47" height="26.86"/>
<rect x="2738.6" y="445.99" width="63.36" height="26.86"/>
<rect x="2738.6" y="472.85" width="53.97" height="26.86"/>
<rect x="2738.6" y="499.71" width="86.82" height="26.86"/>
<rect x="2738.6" y="526.58" width="126.71" height="26.86"/>
<rect x="2738.6" y="553.44" width="145.48" height="26.86"/>
<rect x="2738.6" y="580.30" width="138.44" height="26.86"/>
<rect x="2738.6" y="607.16" width="159.56" height="26.86"/>
<rect x="2738.6" y="634.02" width="226.44" height="26.86"/>
<rect x="2738.6" y="660.88" width="237.00" height="26.86"/>
<rect x="2738.6" y="687.74" width="241.69" height="26.86"/>
<rect x="2738.6" y="714.60" width="232.30" height="26.86"/>
<rect x="2738.6" y="741.47" width="314.43" height="26.86"/>
<rect x="2738.6" y="768.33" width="244.04" height="26.86"/>
<rect x="2738.6" y="795.19" width="283.93" height="26.86"/>
<rect x="2738.6" y="822.05" width="281.58" height="26.86"/>
<rect x="2738.6" y="848.91" width="269.85" height="26.86"/>
<rect x="2738.6" y="875.77" width="244.04" height="26.86"/>
<rect x="2738.6" y="902.63" width="192.41" height="26.86"/>
<rect x="2738.6" y="929.50" width="204.15" height="26.86"/>
<rect x="2738.6" y="956.36" width="157.22" height="26.86"/>
<rect x="2738.6" y="983.22" width="129.06" height="26.86"/>
<rect x="2738.6" y="1010.08" width="136.10" height="26.86"/>
<rect x="2738.6" y="1036.94" width="100.90" height="26.86"/>
<rect x="2738.6" y="1063.80" width="79.78" height="26.86"/>
<rect x="2738.6" y="1090.66" width="53.97" height="26.86"/>
<rect x="2738.6" y="1117.53" width="63.36" height="26.86"/>
<rect x="2738.6" y="1144.39" width="28.16" height="26.86"/>
<rect x="2738.6" y="1171.25" width="24.64" height="26.86"/>
<rect x="2738.6" y="1198.11" width="24.64" height="26.86"/>
<rect x="2738.6" y="1224.97" width="11.73" height="26.86"/>
<rect x="2738.6" y="1251.83" width="14.08" height="26.86"/>
<rect x="2738.6" y="1278.69" width="7.04" height="26.86"/>
<rect x="2738.6" y="1305.55" width="3.52" height="26.86"/>
<rect x="2738.6" y="1332.42" width="7.04" height="26.86"/>
<rect x="2738.6" y="1386.14" width="2.35" height="26.86"/>
</g>
<path d="M268.0 1551.3L268.0 1518.3M268.0 145.5L268.0 178.5M361.9 1551.3L361.9 1534.6M361.9 145.5L361.9 162.2M455.8 1551.3L455.8 1534.6M455.8 145.5L455.8 162.2M549.7 1551.3L549.7 1534.6M549.7 145.5L549.7 162.2M643.7 1551.3L643.7 1534.6M643.7 145.5L643.7 162.2M737.6 1551.3L737.6 1518.3M737.6 145.5L737.6 178.5M831.5 1551.3L831.5 1534.6M831.5 145.5L831.5 162.2M925.4 1551.3L925.4 1534.6M925.4 145.5L925.4 162.2M1019.3 1551.3L1019.3 1534.6M1019.3 145.5L1019.3 162.2M1113.2 1551.3L1113.2 1534.6M1113.2 145.5L1113.2 162.2M1207.2 1551.3L1207.2 1518.3M1207.2 145.5L1207.2 178.5M1301.1 1551.3L1301.1 1534.6M1301.1 145.5L1301.1 162.2M1395.0 1551.3L1395.0 1534.6M1395.0 145.5L1395.0 162.2M1488.9 1551.3L1488.9 1534.6M1488.9 145.5L1488.9 162.2M1582.8 1551.3L1582.8 1534.6M1582.8 145.5L1582.8 162.2M1676.7 1551.3L1676.7 1518.3M1676.7 145.5L1676.7 178.5M1770.7 1551.3L1770.7 1534.6M1770.7 145.5L1770.7 162.2M1864.6 1551.3L1864.6 1534.6M1864.6 145.5L1864.6 162.2M1958.5 1551.3L1958.5 1534.6M1958.5 145.5L1958.5 162.2M2052.4 1551.3L2052.4 1534.6M2052.4 145.5L2052.4 162.2M2146.3 1551.3L2146.3 1518.3M2146.3 145.5L2146.3 178.5M2240.2 1551.3L2240.2 1534.6M2240.2 145.5L2240.2 162.2M2334.2 1551.3L2334.2 1534.6M2334.2 145.5L2334.2 162.2M2428.1 1551.3L2428.1 1534.6M2428.1 145.5L2428.1 162.2M2522.0 1551.3L2522.0 1534.6M2522.0 145.5L2522.0 162.2M2615.9 1551.3L2615.9 1518.3M2615.9 145.5L2615.9 178.5M268.5 1550.3L285.2 1550.3M2616.4 1550.3L2599.7 1550.3M2739.4 1550.3L2756.1 1550.3M3208.7 1550.3L3192.0 1550.3M268.5 1494.1L285.2 1494.1M2616.4 1494.1L2599.7 1494.1M2739.4 1494.1L2756.1 1494.1M3208.7 1494.1L3192.0 1494.1M268.5 1437.9L285.2 1437.9M2616.4 1437.9L2599.7 1437.9M2739.4 1437.9L2756.1 1437.9M3208.7 1437.9L3192.0 1437.9M268.5 1381.6L301.5 1381.6M2616.4 1381.6L2583.4 1381.6M2739.4 1381.6L2772.4 1381.6M3208.7 1381.6L3175.7 1381.6M268.5 1325.4L285.2 1325.4M2616.4 1325.4L2599.7 1325.4M2739.4 1325.4L2756.1 1325.4M3208.7 1325.4L3192.0 1325.4M268.5 1269.2L285.2 1269.2M2616.4 1269.2L2599.7 1269.2M2739.4 1269.2L2756.1 1269.2M3208.7 1269.2L3192.0 1269.2M268.5 1213.0L285.2 1213.0M2616.4 1213.0L2599.7 1213.0M2739.4 1213.0L2756.1 1213.0M3208.7 1213.0L3192.0 1213.0M268.5 1156.7L301.5 1156.7M2616.4 1156.7L2583.4 1156.7M2739.4 1156.7L2772.4 1156.7M3208.7 1156.7L3175.7 1156.7M268.5 1100.5L285.2 1100.5M2616.4 1100.5L2599.7 1100.5M2739.4 1100.5L2756.1 1100.5M3208.7 1100.5L3192.0 1100.5M268.5 1044.3L285.2 1044.3M2616.4 1044.3L2599.7 1044.3M2739.4 1044.3L2756.1 1044.3M3208.7 1044.3L3192.0 1044.3M268.5 988.1L285.2 988.1M2616.4 988.1L2599.7 988.1M2739.4 988.1L2756.1 988.1M3208.7 988.1L3192.0 988.1M268.5 931.8L301.5 931.8M2616.4 931.8L2583.4 931.8M2739.4 931.8L2772.4 931.8M3208.7 931.8L3175.7 931.8M268.5 875.6L285.2 875.6M2616.4 875.6L2599.7 875.6M2739.4 875.6L2756.1 875.6M3208.7 875.6L3192.0 875.6M268.5 819.4L285.2 819.4M2616.4 819.4L2599.7 819.4M2739.4 819.4L2756.1 819.4M3208.7 819.4L3192.0 819.4M268.5 763.2L285.2 763.2M2616.4 763.2L2599.7 763.2M2739.4 763.2L2756.1 763.2M3208.7 763.2L3192.0 763.2M268.5 706.9L301.5 706.9M2616.4 706.9L2583.4 706.9M2739.4 706.9L2772.4 706.9M3208.7 706.9L3175.7 706.9M268.5 650.7L285.2 650.7M2616.4 650.7L2599.7 650.7M2739.4 650.7L2756.1 650.7M3208.7 650.7L3192.0 650.7M268.5 594.5L285.2 594.5M2616.4 594.5L2599.7 594.5M2739.4 594.5L2756.1 594.5M3208.7 594.5L3192.0 594.5M268.5 538.3L285.2 538.3M2616.4 538.3L2599.7 538.3M2739.4 538.3L2756.1 538.3M3208.7 538.3L3192.0 538.3M268.5 482.0L301.5 482.0M2616.4 482.0L2583.4 482.0M2739.4 482.0L2772.4 482.0M3208.7 482.0L3175.7 482.0M268.5 425.8L285.2 425.8M2616.4 425.8L2599.7 425.8M2739.4 425.8L2756.1 425.8M3208.7 425.8L3192.0 425.8M268.5 369.6L285.2 369.6M2616.4 369.6L2599.7 369.6M2739.4 369.6L2756.1 369.6M3208.7 369.6L3192.0 369.6M268.5 313.4L285.2 313.4M2616.4 313.4L2599.7 313.4M2739.4 313.4L2756.1 313.4M3208.7 313.4L3192.0 313.4M268.5 257.1L301.5 257.1M2616.4 257.1L2583.4 257.1M2739.4 257.1L2772.4 257.1M3208.7 257.1L3175.7 257.1M268.5 200.9L285.2 200.9M2616.4 200.9L2599.7 200.9M2739.4 200.9L2756.1 200.9M3208.7 200.9L3192.0 200.9M268.5 144.7L285.2 144.7M2616.4 144.7L2599.7 144.7M2739.4 144.7L2756.1 144.7M3208.7 144.7L3192.0 144.7M2738.6 1551.3L2738.6 1518.3M2738.6 145.5L2738.6 178.5M2855.9 1551.3L2855.9 1534.6M2855.9 145.5L2855.9 162.2M2973.2 1551.3L2973.2 1534.6M2973.2 145.5L2973.2 162.2M3090.6 1551.3L3090.6 1534.6M3090.6 145.5L3090.6 162.2M3207.9 1551.3L3207.9 1518.3M3207.9 145.5L3207.9 178.5" stroke="#000" stroke-width="2.1" fill="none"/>
<rect x="268.5" y="145.5" width="2347.9" height="1405.8" fill="none" stroke="#000" stroke-width="3.1"/>
<rect x="2739.4" y="145.5" width="469.3" height="1405.8" fill="none" stroke="#000" stroke-width="3.1"/>
<text transform="translate(268.00 1628.40) scale(0.6420 1)" font-size="85.5" text-anchor="middle">0</text>
<text transform="translate(737.58 1628.40) scale(0.6420 1)" font-size="85.5" text-anchor="middle">1000</text>
<text transform="translate(1207.16 1628.40) scale(0.6420 1)" font-size="85.5" text-anchor="middle">2000</text>
<text transform="translate(1676.74 1628.40) scale(0.6420 1)" font-size="85.5" text-anchor="middle">3000</text>
<text transform="translate(2146.32 1628.40) scale(0.6420 1)" font-size="85.5" text-anchor="middle">4000</text>
<text transform="translate(2615.90 1628.40) scale(0.6420 1)" font-size="85.5" text-anchor="middle">5000</text>
<text transform="translate(2739.40 1628.40) scale(0.6420 1)" font-size="85.5" text-anchor="middle">0</text>
<text transform="translate(3208.70 1628.40) scale(0.6420 1)" font-size="85.5" text-anchor="middle">200</text>
<text transform="translate(251.10 1403.63) scale(0.6420 1)" font-size="85.5" text-anchor="end">140</text>
<text transform="translate(251.10 1178.73) scale(0.6420 1)" font-size="85.5" text-anchor="end">160</text>
<text transform="translate(251.10 953.84) scale(0.6420 1)" font-size="85.5" text-anchor="end">180</text>
<text transform="translate(251.10 728.94) scale(0.6420 1)" font-size="85.5" text-anchor="end">200</text>
<text transform="translate(251.10 504.04) scale(0.6420 1)" font-size="85.5" text-anchor="end">220</text>
<text transform="translate(251.10 279.15) scale(0.6420 1)" font-size="85.5" text-anchor="end">240</text>
<text transform="translate(1243.52 120.00) scale(0.6126 1)" font-size="109" text-anchor="start">Peptide spin</text>
<text transform="translate(1292.37 1736.00) scale(0.6146 1)" font-size="109" text-anchor="start">Time (ns)</text>
<text transform="translate(2865.10 1735.50) scale(0.5802 1)" font-size="109" text-anchor="start">Counts</text>
<text transform="translate(118.00 1104.45) rotate(-90) scale(0.6143 1)" font-size="109" text-anchor="start">Angle (degrees)</text>
</svg></body></html>
